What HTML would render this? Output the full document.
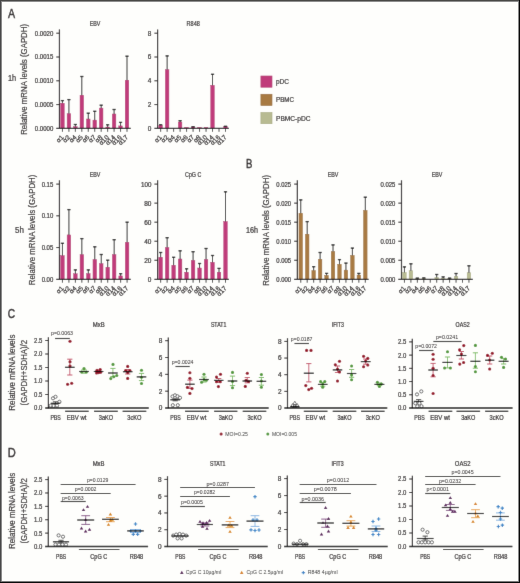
<!DOCTYPE html>
<html><head><meta charset="utf-8"><title>Figure</title>
<style>html,body{margin:0;padding:0;background:#fff;width:520px;height:583px;overflow:hidden}
svg{display:block;will-change:transform} text{font-family:"Liberation Sans",sans-serif;stroke:#231f20;stroke-width:0.2px}</style></head>
<body>
<svg width="520" height="583" viewBox="0 0 520 583" font-family="'Liberation Sans', sans-serif" fill="#231f20">
<defs><filter id="soft" x="0" y="0" width="1" height="1" filterUnits="objectBoundingBox"><feConvolveMatrix order="3" kernelMatrix="0.0052 0.0619 0.0052 0.0619 0.7314 0.0619 0.0052 0.0619 0.0052" edgeMode="duplicate"/></filter></defs>
<g filter="url(#soft)">
<rect width="520" height="583" fill="#fefefc"/>
<text x="7.9" y="17.8" font-size="12.4" textLength="7.1" lengthAdjust="spacingAndGlyphs" style="stroke-width:0.4px">A</text>
<text x="8" y="81.2" font-size="8.2" textLength="8.2" lengthAdjust="spacingAndGlyphs">1h</text>
<text x="15.1" y="232.7" font-size="8.2" textLength="8.9" lengthAdjust="spacingAndGlyphs">5h</text>
<text transform="translate(27.1 134.8) rotate(-90)" font-size="8.5" textLength="110.9" lengthAdjust="spacingAndGlyphs">Relative mRNA levels (GAPDH)</text>
<text transform="translate(35 285.2) rotate(-90)" font-size="8.5" textLength="110.6" lengthAdjust="spacingAndGlyphs">Relative mRNA levels (GAPDH)</text>
<text x="95.05" y="25.9" font-size="6.6" text-anchor="middle" textLength="10.6" lengthAdjust="spacingAndGlyphs">EBV</text>
<rect x="60.65" y="103.2" width="3.6" height="25.2" fill="#c03a7a" stroke="#b02e6c" stroke-width="0.4"/>
<line x1="62.45" y1="100.5" x2="62.45" y2="103.2" stroke="#333" stroke-width="1"/>
<line x1="60.85" y1="100.6" x2="64.05" y2="100.6" stroke="#1a1a1a" stroke-width="1.3"/>
<rect x="67.11" y="113.7" width="3.6" height="14.7" fill="#c03a7a" stroke="#b02e6c" stroke-width="0.4"/>
<line x1="68.91" y1="99.5" x2="68.91" y2="113.7" stroke="#333" stroke-width="1"/>
<line x1="67.31" y1="99.6" x2="70.5" y2="99.6" stroke="#1a1a1a" stroke-width="1.3"/>
<rect x="73.56" y="126.7" width="3.6" height="1.7" fill="#c03a7a" stroke="#b02e6c" stroke-width="0.4"/>
<line x1="75.36" y1="124.4" x2="75.36" y2="126.7" stroke="#333" stroke-width="1"/>
<line x1="73.76" y1="124.5" x2="76.96" y2="124.5" stroke="#1a1a1a" stroke-width="1.3"/>
<rect x="80.02" y="95.2" width="3.6" height="33.2" fill="#c03a7a" stroke="#b02e6c" stroke-width="0.4"/>
<line x1="81.81" y1="76.4" x2="81.81" y2="95.2" stroke="#333" stroke-width="1"/>
<line x1="80.22" y1="76.5" x2="83.41" y2="76.5" stroke="#1a1a1a" stroke-width="1.3"/>
<rect x="86.47" y="119" width="3.6" height="9.4" fill="#c03a7a" stroke="#b02e6c" stroke-width="0.4"/>
<line x1="88.27" y1="113.1" x2="88.27" y2="119" stroke="#333" stroke-width="1"/>
<line x1="86.67" y1="113.2" x2="89.87" y2="113.2" stroke="#1a1a1a" stroke-width="1.3"/>
<rect x="92.92" y="120.1" width="3.6" height="8.3" fill="#c03a7a" stroke="#b02e6c" stroke-width="0.4"/>
<line x1="94.72" y1="111.2" x2="94.72" y2="120.1" stroke="#333" stroke-width="1"/>
<line x1="93.12" y1="111.3" x2="96.32" y2="111.3" stroke="#1a1a1a" stroke-width="1.3"/>
<rect x="99.38" y="108.1" width="3.6" height="20.3" fill="#c03a7a" stroke="#b02e6c" stroke-width="0.4"/>
<line x1="101.18" y1="105.1" x2="101.18" y2="108.1" stroke="#333" stroke-width="1"/>
<line x1="99.58" y1="105.2" x2="102.78" y2="105.2" stroke="#1a1a1a" stroke-width="1.3"/>
<rect x="105.84" y="127" width="3.6" height="1.4" fill="#c03a7a" stroke="#b02e6c" stroke-width="0.4"/>
<line x1="107.64" y1="124.7" x2="107.64" y2="127" stroke="#333" stroke-width="1"/>
<line x1="106.04" y1="124.8" x2="109.23" y2="124.8" stroke="#1a1a1a" stroke-width="1.3"/>
<rect x="112.29" y="114" width="3.6" height="14.4" fill="#c03a7a" stroke="#b02e6c" stroke-width="0.4"/>
<line x1="114.09" y1="109.4" x2="114.09" y2="114" stroke="#333" stroke-width="1"/>
<line x1="112.49" y1="109.5" x2="115.69" y2="109.5" stroke="#1a1a1a" stroke-width="1.3"/>
<rect x="118.75" y="125.9" width="3.6" height="2.5" fill="#c03a7a" stroke="#b02e6c" stroke-width="0.4"/>
<line x1="120.55" y1="122.3" x2="120.55" y2="125.9" stroke="#333" stroke-width="1"/>
<line x1="118.95" y1="122.4" x2="122.14" y2="122.4" stroke="#1a1a1a" stroke-width="1.3"/>
<rect x="125.2" y="80.2" width="3.6" height="48.2" fill="#c03a7a" stroke="#b02e6c" stroke-width="0.4"/>
<line x1="127" y1="56.1" x2="127" y2="80.2" stroke="#333" stroke-width="1"/>
<line x1="125.4" y1="56.2" x2="128.6" y2="56.2" stroke="#1a1a1a" stroke-width="1.3"/>
<line x1="59.45" y1="29.4" x2="59.45" y2="128.95" stroke="#231f20" stroke-width="1.2"/>
<line x1="56.25" y1="128.4" x2="130.75" y2="128.4" stroke="#231f20" stroke-width="1.15"/>
<text x="53.25" y="130.8" font-size="6.8" text-anchor="end" textLength="18.4" lengthAdjust="spacingAndGlyphs">0.0000</text>
<line x1="56.25" y1="104.6" x2="59.45" y2="104.6" stroke="#231f20" stroke-width="1"/>
<text x="53.25" y="107" font-size="6.8" text-anchor="end" textLength="18.4" lengthAdjust="spacingAndGlyphs">0.0005</text>
<line x1="56.25" y1="80.8" x2="59.45" y2="80.8" stroke="#231f20" stroke-width="1"/>
<text x="53.25" y="83.2" font-size="6.8" text-anchor="end" textLength="18.4" lengthAdjust="spacingAndGlyphs">0.0010</text>
<line x1="56.25" y1="57" x2="59.45" y2="57" stroke="#231f20" stroke-width="1"/>
<text x="53.25" y="59.4" font-size="6.8" text-anchor="end" textLength="18.4" lengthAdjust="spacingAndGlyphs">0.0015</text>
<line x1="56.25" y1="33.2" x2="59.45" y2="33.2" stroke="#231f20" stroke-width="1"/>
<text x="53.25" y="35.6" font-size="6.8" text-anchor="end" textLength="18.4" lengthAdjust="spacingAndGlyphs">0.0020</text>
<line x1="62.45" y1="128.4" x2="62.45" y2="131.8" stroke="#333" stroke-width="0.9"/>
<text transform="translate(64.05 137.8) rotate(-45)" font-size="6.5" text-anchor="end" style="stroke-width:0.22px">α1</text>
<line x1="68.91" y1="128.4" x2="68.91" y2="131.8" stroke="#333" stroke-width="0.9"/>
<text transform="translate(70.5 137.8) rotate(-45)" font-size="6.5" text-anchor="end" style="stroke-width:0.22px">α2</text>
<line x1="75.36" y1="128.4" x2="75.36" y2="131.8" stroke="#333" stroke-width="0.9"/>
<text transform="translate(76.96 137.8) rotate(-45)" font-size="6.5" text-anchor="end" style="stroke-width:0.22px">α4</text>
<line x1="81.81" y1="128.4" x2="81.81" y2="131.8" stroke="#333" stroke-width="0.9"/>
<text transform="translate(83.41 137.8) rotate(-45)" font-size="6.5" text-anchor="end" style="stroke-width:0.22px">α5</text>
<line x1="88.27" y1="128.4" x2="88.27" y2="131.8" stroke="#333" stroke-width="0.9"/>
<text transform="translate(89.87 137.8) rotate(-45)" font-size="6.5" text-anchor="end" style="stroke-width:0.22px">α6</text>
<line x1="94.72" y1="128.4" x2="94.72" y2="131.8" stroke="#333" stroke-width="0.9"/>
<text transform="translate(96.32 137.8) rotate(-45)" font-size="6.5" text-anchor="end" style="stroke-width:0.22px">α7</text>
<line x1="101.18" y1="128.4" x2="101.18" y2="131.8" stroke="#333" stroke-width="0.9"/>
<text transform="translate(102.78 137.8) rotate(-45)" font-size="6.5" text-anchor="end" style="stroke-width:0.22px">α8</text>
<line x1="107.64" y1="128.4" x2="107.64" y2="131.8" stroke="#333" stroke-width="0.9"/>
<text transform="translate(109.23 137.8) rotate(-45)" font-size="6.5" text-anchor="end" style="stroke-width:0.22px">α10</text>
<line x1="114.09" y1="128.4" x2="114.09" y2="131.8" stroke="#333" stroke-width="0.9"/>
<text transform="translate(115.69 137.8) rotate(-45)" font-size="6.5" text-anchor="end" style="stroke-width:0.22px">α14</text>
<line x1="120.55" y1="128.4" x2="120.55" y2="131.8" stroke="#333" stroke-width="0.9"/>
<text transform="translate(122.14 137.8) rotate(-45)" font-size="6.5" text-anchor="end" style="stroke-width:0.22px">α16</text>
<line x1="127" y1="128.4" x2="127" y2="131.8" stroke="#333" stroke-width="0.9"/>
<text transform="translate(128.6 137.8) rotate(-45)" font-size="6.5" text-anchor="end" style="stroke-width:0.22px">α17</text>
<text x="193.2" y="25.9" font-size="6.6" text-anchor="middle" textLength="13.2" lengthAdjust="spacingAndGlyphs">R848</text>
<rect x="158.85" y="125.2" width="3.6" height="3.2" fill="#c03a7a" stroke="#b02e6c" stroke-width="0.4"/>
<line x1="160.65" y1="124.6" x2="160.65" y2="125.2" stroke="#333" stroke-width="1"/>
<line x1="159.05" y1="124.7" x2="162.25" y2="124.7" stroke="#1a1a1a" stroke-width="1.3"/>
<rect x="165.34" y="69.7" width="3.6" height="58.7" fill="#c03a7a" stroke="#b02e6c" stroke-width="0.4"/>
<line x1="167.14" y1="55.8" x2="167.14" y2="69.7" stroke="#333" stroke-width="1"/>
<line x1="165.54" y1="55.9" x2="168.74" y2="55.9" stroke="#1a1a1a" stroke-width="1.3"/>
<rect x="178.31" y="122" width="3.6" height="6.4" fill="#c03a7a" stroke="#b02e6c" stroke-width="0.4"/>
<line x1="180.11" y1="120.6" x2="180.11" y2="122" stroke="#333" stroke-width="1"/>
<line x1="178.51" y1="120.7" x2="181.71" y2="120.7" stroke="#1a1a1a" stroke-width="1.3"/>
<rect x="184.79" y="127.3" width="3.6" height="1.1" fill="#c03a7a" stroke="#b02e6c" stroke-width="0.4"/>
<rect x="191.28" y="127" width="3.6" height="1.4" fill="#c03a7a" stroke="#b02e6c" stroke-width="0.4"/>
<line x1="193.08" y1="126.6" x2="193.08" y2="127" stroke="#333" stroke-width="1"/>
<line x1="191.48" y1="126.7" x2="194.68" y2="126.7" stroke="#1a1a1a" stroke-width="1.3"/>
<rect x="197.76" y="127.3" width="3.6" height="1.1" fill="#c03a7a" stroke="#b02e6c" stroke-width="0.4"/>
<rect x="204.25" y="127.3" width="3.6" height="1.1" fill="#c03a7a" stroke="#b02e6c" stroke-width="0.4"/>
<rect x="210.73" y="85.3" width="3.6" height="43.1" fill="#c03a7a" stroke="#b02e6c" stroke-width="0.4"/>
<line x1="212.53" y1="74.2" x2="212.53" y2="85.3" stroke="#333" stroke-width="1"/>
<line x1="210.93" y1="74.3" x2="214.13" y2="74.3" stroke="#1a1a1a" stroke-width="1.3"/>
<rect x="223.7" y="126.7" width="3.6" height="1.7" fill="#c03a7a" stroke="#b02e6c" stroke-width="0.4"/>
<line x1="225.5" y1="126.2" x2="225.5" y2="126.7" stroke="#333" stroke-width="1"/>
<line x1="223.9" y1="126.3" x2="227.1" y2="126.3" stroke="#1a1a1a" stroke-width="1.3"/>
<line x1="157.6" y1="29.4" x2="157.6" y2="128.95" stroke="#231f20" stroke-width="1.2"/>
<line x1="154.4" y1="128.4" x2="228.9" y2="128.4" stroke="#231f20" stroke-width="1.15"/>
<text x="151.4" y="130.8" font-size="6.8" text-anchor="end" textLength="3.6" lengthAdjust="spacingAndGlyphs">0</text>
<line x1="154.4" y1="104.6" x2="157.6" y2="104.6" stroke="#231f20" stroke-width="1"/>
<text x="151.4" y="107" font-size="6.8" text-anchor="end" textLength="3.6" lengthAdjust="spacingAndGlyphs">2</text>
<line x1="154.4" y1="80.8" x2="157.6" y2="80.8" stroke="#231f20" stroke-width="1"/>
<text x="151.4" y="83.2" font-size="6.8" text-anchor="end" textLength="3.6" lengthAdjust="spacingAndGlyphs">4</text>
<line x1="154.4" y1="57" x2="157.6" y2="57" stroke="#231f20" stroke-width="1"/>
<text x="151.4" y="59.4" font-size="6.8" text-anchor="end" textLength="3.6" lengthAdjust="spacingAndGlyphs">6</text>
<line x1="154.4" y1="33.2" x2="157.6" y2="33.2" stroke="#231f20" stroke-width="1"/>
<text x="151.4" y="35.6" font-size="6.8" text-anchor="end" textLength="3.6" lengthAdjust="spacingAndGlyphs">8</text>
<line x1="160.65" y1="128.4" x2="160.65" y2="131.8" stroke="#333" stroke-width="0.9"/>
<text transform="translate(162.25 137.8) rotate(-45)" font-size="6.5" text-anchor="end" style="stroke-width:0.22px">α1</text>
<line x1="167.14" y1="128.4" x2="167.14" y2="131.8" stroke="#333" stroke-width="0.9"/>
<text transform="translate(168.74 137.8) rotate(-45)" font-size="6.5" text-anchor="end" style="stroke-width:0.22px">α2</text>
<line x1="173.62" y1="128.4" x2="173.62" y2="131.8" stroke="#333" stroke-width="0.9"/>
<text transform="translate(175.22 137.8) rotate(-45)" font-size="6.5" text-anchor="end" style="stroke-width:0.22px">α4</text>
<line x1="180.11" y1="128.4" x2="180.11" y2="131.8" stroke="#333" stroke-width="0.9"/>
<text transform="translate(181.71 137.8) rotate(-45)" font-size="6.5" text-anchor="end" style="stroke-width:0.22px">α5</text>
<line x1="186.59" y1="128.4" x2="186.59" y2="131.8" stroke="#333" stroke-width="0.9"/>
<text transform="translate(188.19 137.8) rotate(-45)" font-size="6.5" text-anchor="end" style="stroke-width:0.22px">α6</text>
<line x1="193.08" y1="128.4" x2="193.08" y2="131.8" stroke="#333" stroke-width="0.9"/>
<text transform="translate(194.68 137.8) rotate(-45)" font-size="6.5" text-anchor="end" style="stroke-width:0.22px">α7</text>
<line x1="199.56" y1="128.4" x2="199.56" y2="131.8" stroke="#333" stroke-width="0.9"/>
<text transform="translate(201.16 137.8) rotate(-45)" font-size="6.5" text-anchor="end" style="stroke-width:0.22px">α8</text>
<line x1="206.05" y1="128.4" x2="206.05" y2="131.8" stroke="#333" stroke-width="0.9"/>
<text transform="translate(207.65 137.8) rotate(-45)" font-size="6.5" text-anchor="end" style="stroke-width:0.22px">α10</text>
<line x1="212.53" y1="128.4" x2="212.53" y2="131.8" stroke="#333" stroke-width="0.9"/>
<text transform="translate(214.13 137.8) rotate(-45)" font-size="6.5" text-anchor="end" style="stroke-width:0.22px">α14</text>
<line x1="219.02" y1="128.4" x2="219.02" y2="131.8" stroke="#333" stroke-width="0.9"/>
<text transform="translate(220.62 137.8) rotate(-45)" font-size="6.5" text-anchor="end" style="stroke-width:0.22px">α16</text>
<line x1="225.5" y1="128.4" x2="225.5" y2="131.8" stroke="#333" stroke-width="0.9"/>
<text transform="translate(227.1 137.8) rotate(-45)" font-size="6.5" text-anchor="end" style="stroke-width:0.22px">α17</text>
<text x="95.05" y="176.8" font-size="6.6" text-anchor="middle" textLength="10.6" lengthAdjust="spacingAndGlyphs">EBV</text>
<rect x="60.65" y="255.6" width="3.6" height="23.7" fill="#c03a7a" stroke="#b02e6c" stroke-width="0.4"/>
<line x1="62.45" y1="243.2" x2="62.45" y2="255.6" stroke="#333" stroke-width="1"/>
<line x1="60.85" y1="243.3" x2="64.05" y2="243.3" stroke="#1a1a1a" stroke-width="1.3"/>
<rect x="67.12" y="234.9" width="3.6" height="44.4" fill="#c03a7a" stroke="#b02e6c" stroke-width="0.4"/>
<line x1="68.92" y1="209.5" x2="68.92" y2="234.9" stroke="#333" stroke-width="1"/>
<line x1="67.32" y1="209.6" x2="70.52" y2="209.6" stroke="#1a1a1a" stroke-width="1.3"/>
<rect x="73.58" y="273.8" width="3.6" height="5.5" fill="#c03a7a" stroke="#b02e6c" stroke-width="0.4"/>
<line x1="75.38" y1="269.8" x2="75.38" y2="273.8" stroke="#333" stroke-width="1"/>
<line x1="73.78" y1="269.9" x2="76.98" y2="269.9" stroke="#1a1a1a" stroke-width="1.3"/>
<rect x="80.05" y="254.6" width="3.6" height="24.7" fill="#c03a7a" stroke="#b02e6c" stroke-width="0.4"/>
<line x1="81.84" y1="238.5" x2="81.84" y2="254.6" stroke="#333" stroke-width="1"/>
<line x1="80.25" y1="238.6" x2="83.44" y2="238.6" stroke="#1a1a1a" stroke-width="1.3"/>
<rect x="86.51" y="273.6" width="3.6" height="5.7" fill="#c03a7a" stroke="#b02e6c" stroke-width="0.4"/>
<line x1="88.31" y1="269.8" x2="88.31" y2="273.6" stroke="#333" stroke-width="1"/>
<line x1="86.71" y1="269.9" x2="89.91" y2="269.9" stroke="#1a1a1a" stroke-width="1.3"/>
<rect x="92.98" y="259.5" width="3.6" height="19.8" fill="#c03a7a" stroke="#b02e6c" stroke-width="0.4"/>
<line x1="94.78" y1="246.7" x2="94.78" y2="259.5" stroke="#333" stroke-width="1"/>
<line x1="93.18" y1="246.8" x2="96.38" y2="246.8" stroke="#1a1a1a" stroke-width="1.3"/>
<rect x="99.44" y="263.7" width="3.6" height="15.6" fill="#c03a7a" stroke="#b02e6c" stroke-width="0.4"/>
<line x1="101.24" y1="254.4" x2="101.24" y2="263.7" stroke="#333" stroke-width="1"/>
<line x1="99.64" y1="254.5" x2="102.84" y2="254.5" stroke="#1a1a1a" stroke-width="1.3"/>
<rect x="105.91" y="267.2" width="3.6" height="12.1" fill="#c03a7a" stroke="#b02e6c" stroke-width="0.4"/>
<line x1="107.7" y1="260.1" x2="107.7" y2="267.2" stroke="#333" stroke-width="1"/>
<line x1="106.11" y1="260.2" x2="109.3" y2="260.2" stroke="#1a1a1a" stroke-width="1.3"/>
<rect x="112.37" y="254.6" width="3.6" height="24.7" fill="#c03a7a" stroke="#b02e6c" stroke-width="0.4"/>
<line x1="114.17" y1="239.6" x2="114.17" y2="254.6" stroke="#333" stroke-width="1"/>
<line x1="112.57" y1="239.7" x2="115.77" y2="239.7" stroke="#1a1a1a" stroke-width="1.3"/>
<rect x="118.84" y="275.9" width="3.6" height="3.4" fill="#c03a7a" stroke="#b02e6c" stroke-width="0.4"/>
<line x1="120.64" y1="273.6" x2="120.64" y2="275.9" stroke="#333" stroke-width="1"/>
<line x1="119.04" y1="273.7" x2="122.23" y2="273.7" stroke="#1a1a1a" stroke-width="1.3"/>
<rect x="125.3" y="242.3" width="3.6" height="37" fill="#c03a7a" stroke="#b02e6c" stroke-width="0.4"/>
<line x1="127.1" y1="222.1" x2="127.1" y2="242.3" stroke="#333" stroke-width="1"/>
<line x1="125.5" y1="222.2" x2="128.7" y2="222.2" stroke="#1a1a1a" stroke-width="1.3"/>
<line x1="59.45" y1="180.3" x2="59.45" y2="279.85" stroke="#231f20" stroke-width="1.2"/>
<line x1="56.25" y1="279.3" x2="130.75" y2="279.3" stroke="#231f20" stroke-width="1.15"/>
<text x="53.25" y="281.7" font-size="6.8" text-anchor="end" textLength="11.6" lengthAdjust="spacingAndGlyphs">0.00</text>
<line x1="56.25" y1="247.57" x2="59.45" y2="247.57" stroke="#231f20" stroke-width="1"/>
<text x="53.25" y="249.97" font-size="6.8" text-anchor="end" textLength="11.6" lengthAdjust="spacingAndGlyphs">0.05</text>
<line x1="56.25" y1="215.83" x2="59.45" y2="215.83" stroke="#231f20" stroke-width="1"/>
<text x="53.25" y="218.23" font-size="6.8" text-anchor="end" textLength="11.6" lengthAdjust="spacingAndGlyphs">0.10</text>
<line x1="56.25" y1="184.1" x2="59.45" y2="184.1" stroke="#231f20" stroke-width="1"/>
<text x="53.25" y="186.5" font-size="6.8" text-anchor="end" textLength="11.6" lengthAdjust="spacingAndGlyphs">0.15</text>
<line x1="62.45" y1="279.3" x2="62.45" y2="282.7" stroke="#333" stroke-width="0.9"/>
<text transform="translate(64.05 288.7) rotate(-45)" font-size="6.5" text-anchor="end" style="stroke-width:0.22px">α1</text>
<line x1="68.92" y1="279.3" x2="68.92" y2="282.7" stroke="#333" stroke-width="0.9"/>
<text transform="translate(70.52 288.7) rotate(-45)" font-size="6.5" text-anchor="end" style="stroke-width:0.22px">α2</text>
<line x1="75.38" y1="279.3" x2="75.38" y2="282.7" stroke="#333" stroke-width="0.9"/>
<text transform="translate(76.98 288.7) rotate(-45)" font-size="6.5" text-anchor="end" style="stroke-width:0.22px">α4</text>
<line x1="81.84" y1="279.3" x2="81.84" y2="282.7" stroke="#333" stroke-width="0.9"/>
<text transform="translate(83.44 288.7) rotate(-45)" font-size="6.5" text-anchor="end" style="stroke-width:0.22px">α5</text>
<line x1="88.31" y1="279.3" x2="88.31" y2="282.7" stroke="#333" stroke-width="0.9"/>
<text transform="translate(89.91 288.7) rotate(-45)" font-size="6.5" text-anchor="end" style="stroke-width:0.22px">α6</text>
<line x1="94.78" y1="279.3" x2="94.78" y2="282.7" stroke="#333" stroke-width="0.9"/>
<text transform="translate(96.38 288.7) rotate(-45)" font-size="6.5" text-anchor="end" style="stroke-width:0.22px">α7</text>
<line x1="101.24" y1="279.3" x2="101.24" y2="282.7" stroke="#333" stroke-width="0.9"/>
<text transform="translate(102.84 288.7) rotate(-45)" font-size="6.5" text-anchor="end" style="stroke-width:0.22px">α8</text>
<line x1="107.7" y1="279.3" x2="107.7" y2="282.7" stroke="#333" stroke-width="0.9"/>
<text transform="translate(109.3 288.7) rotate(-45)" font-size="6.5" text-anchor="end" style="stroke-width:0.22px">α10</text>
<line x1="114.17" y1="279.3" x2="114.17" y2="282.7" stroke="#333" stroke-width="0.9"/>
<text transform="translate(115.77 288.7) rotate(-45)" font-size="6.5" text-anchor="end" style="stroke-width:0.22px">α14</text>
<line x1="120.64" y1="279.3" x2="120.64" y2="282.7" stroke="#333" stroke-width="0.9"/>
<text transform="translate(122.23 288.7) rotate(-45)" font-size="6.5" text-anchor="end" style="stroke-width:0.22px">α16</text>
<line x1="127.1" y1="279.3" x2="127.1" y2="282.7" stroke="#333" stroke-width="0.9"/>
<text transform="translate(128.7 288.7) rotate(-45)" font-size="6.5" text-anchor="end" style="stroke-width:0.22px">α17</text>
<text x="193.2" y="176.8" font-size="6.6" text-anchor="middle" textLength="16.2" lengthAdjust="spacingAndGlyphs">CpG C</text>
<rect x="158.85" y="257.2" width="3.6" height="22.1" fill="#c03a7a" stroke="#b02e6c" stroke-width="0.4"/>
<line x1="160.65" y1="252.4" x2="160.65" y2="257.2" stroke="#333" stroke-width="1"/>
<line x1="159.05" y1="252.5" x2="162.25" y2="252.5" stroke="#1a1a1a" stroke-width="1.3"/>
<rect x="165.34" y="247.5" width="3.6" height="31.8" fill="#c03a7a" stroke="#b02e6c" stroke-width="0.4"/>
<line x1="167.14" y1="237.6" x2="167.14" y2="247.5" stroke="#333" stroke-width="1"/>
<line x1="165.54" y1="237.7" x2="168.74" y2="237.7" stroke="#1a1a1a" stroke-width="1.3"/>
<rect x="171.82" y="265.2" width="3.6" height="14.1" fill="#c03a7a" stroke="#b02e6c" stroke-width="0.4"/>
<line x1="173.62" y1="257.2" x2="173.62" y2="265.2" stroke="#333" stroke-width="1"/>
<line x1="172.02" y1="257.3" x2="175.22" y2="257.3" stroke="#1a1a1a" stroke-width="1.3"/>
<rect x="178.31" y="259" width="3.6" height="20.3" fill="#c03a7a" stroke="#b02e6c" stroke-width="0.4"/>
<line x1="180.11" y1="250.7" x2="180.11" y2="259" stroke="#333" stroke-width="1"/>
<line x1="178.51" y1="250.8" x2="181.71" y2="250.8" stroke="#1a1a1a" stroke-width="1.3"/>
<rect x="184.79" y="272.2" width="3.6" height="7.1" fill="#c03a7a" stroke="#b02e6c" stroke-width="0.4"/>
<line x1="186.59" y1="268.7" x2="186.59" y2="272.2" stroke="#333" stroke-width="1"/>
<line x1="184.99" y1="268.8" x2="188.19" y2="268.8" stroke="#1a1a1a" stroke-width="1.3"/>
<rect x="191.28" y="260.4" width="3.6" height="18.9" fill="#c03a7a" stroke="#b02e6c" stroke-width="0.4"/>
<line x1="193.08" y1="251.6" x2="193.08" y2="260.4" stroke="#333" stroke-width="1"/>
<line x1="191.48" y1="251.7" x2="194.68" y2="251.7" stroke="#1a1a1a" stroke-width="1.3"/>
<rect x="197.76" y="268" width="3.6" height="11.3" fill="#c03a7a" stroke="#b02e6c" stroke-width="0.4"/>
<line x1="199.56" y1="263.4" x2="199.56" y2="268" stroke="#333" stroke-width="1"/>
<line x1="197.96" y1="263.5" x2="201.16" y2="263.5" stroke="#1a1a1a" stroke-width="1.3"/>
<rect x="204.25" y="259.5" width="3.6" height="19.8" fill="#c03a7a" stroke="#b02e6c" stroke-width="0.4"/>
<line x1="206.05" y1="248.4" x2="206.05" y2="259.5" stroke="#333" stroke-width="1"/>
<line x1="204.45" y1="248.5" x2="207.65" y2="248.5" stroke="#1a1a1a" stroke-width="1.3"/>
<rect x="210.73" y="262.3" width="3.6" height="17" fill="#c03a7a" stroke="#b02e6c" stroke-width="0.4"/>
<line x1="212.53" y1="255.4" x2="212.53" y2="262.3" stroke="#333" stroke-width="1"/>
<line x1="210.93" y1="255.5" x2="214.13" y2="255.5" stroke="#1a1a1a" stroke-width="1.3"/>
<rect x="217.22" y="272.2" width="3.6" height="7.1" fill="#c03a7a" stroke="#b02e6c" stroke-width="0.4"/>
<line x1="219.02" y1="268.3" x2="219.02" y2="272.2" stroke="#333" stroke-width="1"/>
<line x1="217.42" y1="268.4" x2="220.62" y2="268.4" stroke="#1a1a1a" stroke-width="1.3"/>
<rect x="223.7" y="221.5" width="3.6" height="57.8" fill="#c03a7a" stroke="#b02e6c" stroke-width="0.4"/>
<line x1="225.5" y1="191.7" x2="225.5" y2="221.5" stroke="#333" stroke-width="1"/>
<line x1="223.9" y1="191.8" x2="227.1" y2="191.8" stroke="#1a1a1a" stroke-width="1.3"/>
<line x1="157.6" y1="180.3" x2="157.6" y2="279.85" stroke="#231f20" stroke-width="1.2"/>
<line x1="154.4" y1="279.3" x2="228.9" y2="279.3" stroke="#231f20" stroke-width="1.15"/>
<text x="151.4" y="281.7" font-size="6.8" text-anchor="end" textLength="3.6" lengthAdjust="spacingAndGlyphs">0</text>
<line x1="154.4" y1="260.26" x2="157.6" y2="260.26" stroke="#231f20" stroke-width="1"/>
<text x="151.4" y="262.66" font-size="6.8" text-anchor="end" textLength="7.2" lengthAdjust="spacingAndGlyphs">20</text>
<line x1="154.4" y1="241.22" x2="157.6" y2="241.22" stroke="#231f20" stroke-width="1"/>
<text x="151.4" y="243.62" font-size="6.8" text-anchor="end" textLength="7.2" lengthAdjust="spacingAndGlyphs">40</text>
<line x1="154.4" y1="222.18" x2="157.6" y2="222.18" stroke="#231f20" stroke-width="1"/>
<text x="151.4" y="224.58" font-size="6.8" text-anchor="end" textLength="7.2" lengthAdjust="spacingAndGlyphs">60</text>
<line x1="154.4" y1="203.14" x2="157.6" y2="203.14" stroke="#231f20" stroke-width="1"/>
<text x="151.4" y="205.54" font-size="6.8" text-anchor="end" textLength="7.2" lengthAdjust="spacingAndGlyphs">80</text>
<line x1="154.4" y1="184.1" x2="157.6" y2="184.1" stroke="#231f20" stroke-width="1"/>
<text x="151.4" y="186.5" font-size="6.8" text-anchor="end" textLength="10.4" lengthAdjust="spacingAndGlyphs">100</text>
<line x1="160.65" y1="279.3" x2="160.65" y2="282.7" stroke="#333" stroke-width="0.9"/>
<text transform="translate(162.25 288.7) rotate(-45)" font-size="6.5" text-anchor="end" style="stroke-width:0.22px">α1</text>
<line x1="167.14" y1="279.3" x2="167.14" y2="282.7" stroke="#333" stroke-width="0.9"/>
<text transform="translate(168.74 288.7) rotate(-45)" font-size="6.5" text-anchor="end" style="stroke-width:0.22px">α2</text>
<line x1="173.62" y1="279.3" x2="173.62" y2="282.7" stroke="#333" stroke-width="0.9"/>
<text transform="translate(175.22 288.7) rotate(-45)" font-size="6.5" text-anchor="end" style="stroke-width:0.22px">α4</text>
<line x1="180.11" y1="279.3" x2="180.11" y2="282.7" stroke="#333" stroke-width="0.9"/>
<text transform="translate(181.71 288.7) rotate(-45)" font-size="6.5" text-anchor="end" style="stroke-width:0.22px">α5</text>
<line x1="186.59" y1="279.3" x2="186.59" y2="282.7" stroke="#333" stroke-width="0.9"/>
<text transform="translate(188.19 288.7) rotate(-45)" font-size="6.5" text-anchor="end" style="stroke-width:0.22px">α6</text>
<line x1="193.08" y1="279.3" x2="193.08" y2="282.7" stroke="#333" stroke-width="0.9"/>
<text transform="translate(194.68 288.7) rotate(-45)" font-size="6.5" text-anchor="end" style="stroke-width:0.22px">α7</text>
<line x1="199.56" y1="279.3" x2="199.56" y2="282.7" stroke="#333" stroke-width="0.9"/>
<text transform="translate(201.16 288.7) rotate(-45)" font-size="6.5" text-anchor="end" style="stroke-width:0.22px">α8</text>
<line x1="206.05" y1="279.3" x2="206.05" y2="282.7" stroke="#333" stroke-width="0.9"/>
<text transform="translate(207.65 288.7) rotate(-45)" font-size="6.5" text-anchor="end" style="stroke-width:0.22px">α10</text>
<line x1="212.53" y1="279.3" x2="212.53" y2="282.7" stroke="#333" stroke-width="0.9"/>
<text transform="translate(214.13 288.7) rotate(-45)" font-size="6.5" text-anchor="end" style="stroke-width:0.22px">α14</text>
<line x1="219.02" y1="279.3" x2="219.02" y2="282.7" stroke="#333" stroke-width="0.9"/>
<text transform="translate(220.62 288.7) rotate(-45)" font-size="6.5" text-anchor="end" style="stroke-width:0.22px">α16</text>
<line x1="225.5" y1="279.3" x2="225.5" y2="282.7" stroke="#333" stroke-width="0.9"/>
<text transform="translate(227.1 288.7) rotate(-45)" font-size="6.5" text-anchor="end" style="stroke-width:0.22px">α17</text>
<text x="245.9" y="167.8" font-size="12.4" textLength="6.4" lengthAdjust="spacingAndGlyphs" style="stroke-width:0.4px">B</text>
<text x="246.1" y="232.7" font-size="8.2" textLength="12" lengthAdjust="spacingAndGlyphs">16h</text>
<text transform="translate(269.4 285.7) rotate(-90)" font-size="8.5" textLength="110.7" lengthAdjust="spacingAndGlyphs">Relative mRNA levels (GAPDH)</text>
<text x="332.95" y="176.8" font-size="6.6" text-anchor="middle" textLength="10.6" lengthAdjust="spacingAndGlyphs">EBV</text>
<rect x="298.95" y="213.2" width="3.6" height="66.1" fill="#a87a42" stroke="#96692f" stroke-width="0.4"/>
<line x1="300.75" y1="199.8" x2="300.75" y2="213.2" stroke="#333" stroke-width="1"/>
<line x1="299.15" y1="199.9" x2="302.35" y2="199.9" stroke="#1a1a1a" stroke-width="1.3"/>
<rect x="305.4" y="234.2" width="3.6" height="45.1" fill="#a87a42" stroke="#96692f" stroke-width="0.4"/>
<line x1="307.2" y1="221.5" x2="307.2" y2="234.2" stroke="#333" stroke-width="1"/>
<line x1="305.6" y1="221.6" x2="308.81" y2="221.6" stroke="#1a1a1a" stroke-width="1.3"/>
<rect x="311.86" y="270.5" width="3.6" height="8.8" fill="#a87a42" stroke="#96692f" stroke-width="0.4"/>
<line x1="313.66" y1="266.6" x2="313.66" y2="270.5" stroke="#333" stroke-width="1"/>
<line x1="312.06" y1="266.7" x2="315.26" y2="266.7" stroke="#1a1a1a" stroke-width="1.3"/>
<rect x="318.31" y="259.2" width="3.6" height="20.1" fill="#a87a42" stroke="#96692f" stroke-width="0.4"/>
<line x1="320.12" y1="252.4" x2="320.12" y2="259.2" stroke="#333" stroke-width="1"/>
<line x1="318.51" y1="252.5" x2="321.72" y2="252.5" stroke="#1a1a1a" stroke-width="1.3"/>
<rect x="324.77" y="275.4" width="3.6" height="3.9" fill="#a87a42" stroke="#96692f" stroke-width="0.4"/>
<line x1="326.57" y1="273.3" x2="326.57" y2="275.4" stroke="#333" stroke-width="1"/>
<line x1="324.97" y1="273.4" x2="328.17" y2="273.4" stroke="#1a1a1a" stroke-width="1.3"/>
<rect x="331.22" y="251.6" width="3.6" height="27.7" fill="#a87a42" stroke="#96692f" stroke-width="0.4"/>
<line x1="333.02" y1="244.8" x2="333.02" y2="251.6" stroke="#333" stroke-width="1"/>
<line x1="331.42" y1="244.9" x2="334.62" y2="244.9" stroke="#1a1a1a" stroke-width="1.3"/>
<rect x="337.68" y="264.3" width="3.6" height="15" fill="#a87a42" stroke="#96692f" stroke-width="0.4"/>
<line x1="339.48" y1="259.5" x2="339.48" y2="264.3" stroke="#333" stroke-width="1"/>
<line x1="337.88" y1="259.6" x2="341.08" y2="259.6" stroke="#1a1a1a" stroke-width="1.3"/>
<rect x="344.13" y="270.1" width="3.6" height="9.2" fill="#a87a42" stroke="#96692f" stroke-width="0.4"/>
<line x1="345.94" y1="263" x2="345.94" y2="270.1" stroke="#333" stroke-width="1"/>
<line x1="344.33" y1="263.1" x2="347.54" y2="263.1" stroke="#1a1a1a" stroke-width="1.3"/>
<rect x="350.59" y="255.4" width="3.6" height="23.9" fill="#a87a42" stroke="#96692f" stroke-width="0.4"/>
<line x1="352.39" y1="248" x2="352.39" y2="255.4" stroke="#333" stroke-width="1"/>
<line x1="350.79" y1="248.1" x2="353.99" y2="248.1" stroke="#1a1a1a" stroke-width="1.3"/>
<rect x="357.05" y="275" width="3.6" height="4.3" fill="#a87a42" stroke="#96692f" stroke-width="0.4"/>
<line x1="358.85" y1="273.3" x2="358.85" y2="275" stroke="#333" stroke-width="1"/>
<line x1="357.25" y1="273.4" x2="360.45" y2="273.4" stroke="#1a1a1a" stroke-width="1.3"/>
<rect x="363.5" y="210.4" width="3.6" height="68.9" fill="#a87a42" stroke="#96692f" stroke-width="0.4"/>
<line x1="365.3" y1="197.1" x2="365.3" y2="210.4" stroke="#333" stroke-width="1"/>
<line x1="363.7" y1="197.2" x2="366.9" y2="197.2" stroke="#1a1a1a" stroke-width="1.3"/>
<line x1="297.35" y1="180.3" x2="297.35" y2="279.85" stroke="#231f20" stroke-width="1.2"/>
<line x1="294.15" y1="279.3" x2="368.65" y2="279.3" stroke="#231f20" stroke-width="1.15"/>
<text x="291.15" y="281.7" font-size="6.8" text-anchor="end" textLength="14.8" lengthAdjust="spacingAndGlyphs">0.000</text>
<line x1="294.15" y1="260.26" x2="297.35" y2="260.26" stroke="#231f20" stroke-width="1"/>
<text x="291.15" y="262.66" font-size="6.8" text-anchor="end" textLength="14.8" lengthAdjust="spacingAndGlyphs">0.005</text>
<line x1="294.15" y1="241.22" x2="297.35" y2="241.22" stroke="#231f20" stroke-width="1"/>
<text x="291.15" y="243.62" font-size="6.8" text-anchor="end" textLength="14.8" lengthAdjust="spacingAndGlyphs">0.010</text>
<line x1="294.15" y1="222.18" x2="297.35" y2="222.18" stroke="#231f20" stroke-width="1"/>
<text x="291.15" y="224.58" font-size="6.8" text-anchor="end" textLength="14.8" lengthAdjust="spacingAndGlyphs">0.015</text>
<line x1="294.15" y1="203.14" x2="297.35" y2="203.14" stroke="#231f20" stroke-width="1"/>
<text x="291.15" y="205.54" font-size="6.8" text-anchor="end" textLength="14.8" lengthAdjust="spacingAndGlyphs">0.020</text>
<line x1="294.15" y1="184.1" x2="297.35" y2="184.1" stroke="#231f20" stroke-width="1"/>
<text x="291.15" y="186.5" font-size="6.8" text-anchor="end" textLength="14.8" lengthAdjust="spacingAndGlyphs">0.025</text>
<line x1="300.75" y1="279.3" x2="300.75" y2="282.7" stroke="#333" stroke-width="0.9"/>
<text transform="translate(302.35 288.7) rotate(-45)" font-size="6.5" text-anchor="end" style="stroke-width:0.22px">α1</text>
<line x1="307.2" y1="279.3" x2="307.2" y2="282.7" stroke="#333" stroke-width="0.9"/>
<text transform="translate(308.81 288.7) rotate(-45)" font-size="6.5" text-anchor="end" style="stroke-width:0.22px">α2</text>
<line x1="313.66" y1="279.3" x2="313.66" y2="282.7" stroke="#333" stroke-width="0.9"/>
<text transform="translate(315.26 288.7) rotate(-45)" font-size="6.5" text-anchor="end" style="stroke-width:0.22px">α4</text>
<line x1="320.12" y1="279.3" x2="320.12" y2="282.7" stroke="#333" stroke-width="0.9"/>
<text transform="translate(321.72 288.7) rotate(-45)" font-size="6.5" text-anchor="end" style="stroke-width:0.22px">α5</text>
<line x1="326.57" y1="279.3" x2="326.57" y2="282.7" stroke="#333" stroke-width="0.9"/>
<text transform="translate(328.17 288.7) rotate(-45)" font-size="6.5" text-anchor="end" style="stroke-width:0.22px">α6</text>
<line x1="333.02" y1="279.3" x2="333.02" y2="282.7" stroke="#333" stroke-width="0.9"/>
<text transform="translate(334.62 288.7) rotate(-45)" font-size="6.5" text-anchor="end" style="stroke-width:0.22px">α7</text>
<line x1="339.48" y1="279.3" x2="339.48" y2="282.7" stroke="#333" stroke-width="0.9"/>
<text transform="translate(341.08 288.7) rotate(-45)" font-size="6.5" text-anchor="end" style="stroke-width:0.22px">α8</text>
<line x1="345.94" y1="279.3" x2="345.94" y2="282.7" stroke="#333" stroke-width="0.9"/>
<text transform="translate(347.54 288.7) rotate(-45)" font-size="6.5" text-anchor="end" style="stroke-width:0.22px">α10</text>
<line x1="352.39" y1="279.3" x2="352.39" y2="282.7" stroke="#333" stroke-width="0.9"/>
<text transform="translate(353.99 288.7) rotate(-45)" font-size="6.5" text-anchor="end" style="stroke-width:0.22px">α14</text>
<line x1="358.85" y1="279.3" x2="358.85" y2="282.7" stroke="#333" stroke-width="0.9"/>
<text transform="translate(360.45 288.7) rotate(-45)" font-size="6.5" text-anchor="end" style="stroke-width:0.22px">α16</text>
<line x1="365.3" y1="279.3" x2="365.3" y2="282.7" stroke="#333" stroke-width="0.9"/>
<text transform="translate(366.9 288.7) rotate(-45)" font-size="6.5" text-anchor="end" style="stroke-width:0.22px">α17</text>
<text x="437.1" y="176.8" font-size="6.6" text-anchor="middle" textLength="10.6" lengthAdjust="spacingAndGlyphs">EBV</text>
<rect x="402.65" y="272.5" width="3.6" height="6.8" fill="#b8bb92" stroke="#a6a97e" stroke-width="0.4"/>
<line x1="404.45" y1="266.8" x2="404.45" y2="272.5" stroke="#333" stroke-width="1"/>
<line x1="402.85" y1="266.9" x2="406.05" y2="266.9" stroke="#1a1a1a" stroke-width="1.3"/>
<rect x="409.1" y="270.8" width="3.6" height="8.5" fill="#b8bb92" stroke="#a6a97e" stroke-width="0.4"/>
<line x1="410.9" y1="263.7" x2="410.9" y2="270.8" stroke="#333" stroke-width="1"/>
<line x1="409.3" y1="263.8" x2="412.5" y2="263.8" stroke="#1a1a1a" stroke-width="1.3"/>
<rect x="415.55" y="278.5" width="3.6" height="0.8" fill="#b8bb92" stroke="#a6a97e" stroke-width="0.4"/>
<line x1="417.35" y1="278" x2="417.35" y2="278.5" stroke="#333" stroke-width="1"/>
<line x1="415.75" y1="278.1" x2="418.95" y2="278.1" stroke="#1a1a1a" stroke-width="1.3"/>
<rect x="422" y="278.3" width="3.6" height="1" fill="#b8bb92" stroke="#a6a97e" stroke-width="0.4"/>
<line x1="423.8" y1="277.8" x2="423.8" y2="278.3" stroke="#333" stroke-width="1"/>
<line x1="422.2" y1="277.9" x2="425.4" y2="277.9" stroke="#1a1a1a" stroke-width="1.3"/>
<rect x="434.9" y="277.5" width="3.6" height="1.8" fill="#b8bb92" stroke="#a6a97e" stroke-width="0.4"/>
<line x1="436.7" y1="274.4" x2="436.7" y2="277.5" stroke="#333" stroke-width="1"/>
<line x1="435.1" y1="274.5" x2="438.3" y2="274.5" stroke="#1a1a1a" stroke-width="1.3"/>
<rect x="441.35" y="278.3" width="3.6" height="1" fill="#b8bb92" stroke="#a6a97e" stroke-width="0.4"/>
<line x1="443.15" y1="276.8" x2="443.15" y2="278.3" stroke="#333" stroke-width="1"/>
<line x1="441.55" y1="276.9" x2="444.75" y2="276.9" stroke="#1a1a1a" stroke-width="1.3"/>
<rect x="447.8" y="278.6" width="3.6" height="0.7" fill="#b8bb92" stroke="#a6a97e" stroke-width="0.4"/>
<line x1="449.6" y1="278" x2="449.6" y2="278.6" stroke="#333" stroke-width="1"/>
<line x1="448" y1="278.1" x2="451.2" y2="278.1" stroke="#1a1a1a" stroke-width="1.3"/>
<rect x="454.25" y="276.4" width="3.6" height="2.9" fill="#b8bb92" stroke="#a6a97e" stroke-width="0.4"/>
<line x1="456.05" y1="273.4" x2="456.05" y2="276.4" stroke="#333" stroke-width="1"/>
<line x1="454.45" y1="273.5" x2="457.65" y2="273.5" stroke="#1a1a1a" stroke-width="1.3"/>
<rect x="467.15" y="272.8" width="3.6" height="6.5" fill="#b8bb92" stroke="#a6a97e" stroke-width="0.4"/>
<line x1="468.95" y1="265.7" x2="468.95" y2="272.8" stroke="#333" stroke-width="1"/>
<line x1="467.35" y1="265.8" x2="470.55" y2="265.8" stroke="#1a1a1a" stroke-width="1.3"/>
<line x1="401.5" y1="180.3" x2="401.5" y2="279.85" stroke="#231f20" stroke-width="1.2"/>
<line x1="398.3" y1="279.3" x2="472.8" y2="279.3" stroke="#231f20" stroke-width="1.15"/>
<text x="395.3" y="281.7" font-size="6.8" text-anchor="end" textLength="14.8" lengthAdjust="spacingAndGlyphs">0.000</text>
<line x1="398.3" y1="260.26" x2="401.5" y2="260.26" stroke="#231f20" stroke-width="1"/>
<text x="395.3" y="262.66" font-size="6.8" text-anchor="end" textLength="14.8" lengthAdjust="spacingAndGlyphs">0.005</text>
<line x1="398.3" y1="241.22" x2="401.5" y2="241.22" stroke="#231f20" stroke-width="1"/>
<text x="395.3" y="243.62" font-size="6.8" text-anchor="end" textLength="14.8" lengthAdjust="spacingAndGlyphs">0.010</text>
<line x1="398.3" y1="222.18" x2="401.5" y2="222.18" stroke="#231f20" stroke-width="1"/>
<text x="395.3" y="224.58" font-size="6.8" text-anchor="end" textLength="14.8" lengthAdjust="spacingAndGlyphs">0.015</text>
<line x1="398.3" y1="203.14" x2="401.5" y2="203.14" stroke="#231f20" stroke-width="1"/>
<text x="395.3" y="205.54" font-size="6.8" text-anchor="end" textLength="14.8" lengthAdjust="spacingAndGlyphs">0.020</text>
<line x1="398.3" y1="184.1" x2="401.5" y2="184.1" stroke="#231f20" stroke-width="1"/>
<text x="395.3" y="186.5" font-size="6.8" text-anchor="end" textLength="14.8" lengthAdjust="spacingAndGlyphs">0.025</text>
<line x1="404.45" y1="279.3" x2="404.45" y2="282.7" stroke="#333" stroke-width="0.9"/>
<text transform="translate(406.05 288.7) rotate(-45)" font-size="6.5" text-anchor="end" style="stroke-width:0.22px">α1</text>
<line x1="410.9" y1="279.3" x2="410.9" y2="282.7" stroke="#333" stroke-width="0.9"/>
<text transform="translate(412.5 288.7) rotate(-45)" font-size="6.5" text-anchor="end" style="stroke-width:0.22px">α2</text>
<line x1="417.35" y1="279.3" x2="417.35" y2="282.7" stroke="#333" stroke-width="0.9"/>
<text transform="translate(418.95 288.7) rotate(-45)" font-size="6.5" text-anchor="end" style="stroke-width:0.22px">α4</text>
<line x1="423.8" y1="279.3" x2="423.8" y2="282.7" stroke="#333" stroke-width="0.9"/>
<text transform="translate(425.4 288.7) rotate(-45)" font-size="6.5" text-anchor="end" style="stroke-width:0.22px">α5</text>
<line x1="430.25" y1="279.3" x2="430.25" y2="282.7" stroke="#333" stroke-width="0.9"/>
<text transform="translate(431.85 288.7) rotate(-45)" font-size="6.5" text-anchor="end" style="stroke-width:0.22px">α6</text>
<line x1="436.7" y1="279.3" x2="436.7" y2="282.7" stroke="#333" stroke-width="0.9"/>
<text transform="translate(438.3 288.7) rotate(-45)" font-size="6.5" text-anchor="end" style="stroke-width:0.22px">α7</text>
<line x1="443.15" y1="279.3" x2="443.15" y2="282.7" stroke="#333" stroke-width="0.9"/>
<text transform="translate(444.75 288.7) rotate(-45)" font-size="6.5" text-anchor="end" style="stroke-width:0.22px">α8</text>
<line x1="449.6" y1="279.3" x2="449.6" y2="282.7" stroke="#333" stroke-width="0.9"/>
<text transform="translate(451.2 288.7) rotate(-45)" font-size="6.5" text-anchor="end" style="stroke-width:0.22px">α10</text>
<line x1="456.05" y1="279.3" x2="456.05" y2="282.7" stroke="#333" stroke-width="0.9"/>
<text transform="translate(457.65 288.7) rotate(-45)" font-size="6.5" text-anchor="end" style="stroke-width:0.22px">α14</text>
<line x1="462.5" y1="279.3" x2="462.5" y2="282.7" stroke="#333" stroke-width="0.9"/>
<text transform="translate(464.1 288.7) rotate(-45)" font-size="6.5" text-anchor="end" style="stroke-width:0.22px">α16</text>
<line x1="468.95" y1="279.3" x2="468.95" y2="282.7" stroke="#333" stroke-width="0.9"/>
<text transform="translate(470.55 288.7) rotate(-45)" font-size="6.5" text-anchor="end" style="stroke-width:0.22px">α17</text>
<rect x="260.9" y="76" width="11.1" height="11.2" fill="#c03a7a" stroke="#b02e6c" stroke-width="0.6"/>
<text x="276" y="84" font-size="7.4" textLength="13" lengthAdjust="spacingAndGlyphs">pDC</text>
<rect x="260.9" y="94.25" width="11.1" height="11.2" fill="#a87a42" stroke="#96692f" stroke-width="0.6"/>
<text x="276" y="102.25" font-size="7.4" textLength="18" lengthAdjust="spacingAndGlyphs">PBMC</text>
<rect x="260.9" y="112.5" width="11.1" height="11.2" fill="#b8bb92" stroke="#a6a97e" stroke-width="0.6"/>
<text x="276" y="120.5" font-size="7.4" textLength="34.5" lengthAdjust="spacingAndGlyphs">PBMC-pDC</text>
<text x="7.7" y="318.4" font-size="12.4" textLength="7.4" lengthAdjust="spacingAndGlyphs" style="stroke-width:0.4px">C</text>
<text transform="translate(15 410.7) rotate(-90)" font-size="8.6" textLength="76.2" lengthAdjust="spacingAndGlyphs">Relative mRNA levels</text>
<text transform="translate(27.3 405.4) rotate(-90)" font-size="8.6" textLength="65.5" lengthAdjust="spacingAndGlyphs">(GAPDH+SDHA)/2</text>
<text transform="translate(15 548.9) rotate(-90)" font-size="8.6" textLength="76.2" lengthAdjust="spacingAndGlyphs">Relative mRNA levels</text>
<text transform="translate(27.3 543.6) rotate(-90)" font-size="8.6" textLength="65.5" lengthAdjust="spacingAndGlyphs">(GAPDH+SDHA)/2</text>
<text x="98.7" y="326.9" font-size="6.6" text-anchor="middle" textLength="11.9" lengthAdjust="spacingAndGlyphs">MxB</text>
<line x1="55.5" y1="401.8" x2="55.5" y2="404.6" stroke="#4a4a4a" stroke-width="0.9"/>
<line x1="52.9" y1="401.8" x2="58.1" y2="401.8" stroke="#4a4a4a" stroke-width="1"/>
<line x1="52.9" y1="404.6" x2="58.1" y2="404.6" stroke="#4a4a4a" stroke-width="1"/>
<circle cx="53" cy="398.3" r="1.6" fill="#fff" stroke="#4a4a4a" stroke-width="0.8"/>
<circle cx="55.5" cy="396.8" r="1.6" fill="#fff" stroke="#4a4a4a" stroke-width="0.8"/>
<circle cx="59.4" cy="401.8" r="1.6" fill="#fff" stroke="#4a4a4a" stroke-width="0.8"/>
<circle cx="50.8" cy="405.6" r="1.6" fill="#fff" stroke="#4a4a4a" stroke-width="0.8"/>
<circle cx="53.6" cy="405.8" r="1.6" fill="#fff" stroke="#4a4a4a" stroke-width="0.8"/>
<circle cx="57" cy="405.6" r="1.6" fill="#fff" stroke="#4a4a4a" stroke-width="0.8"/>
<line x1="50.8" y1="403.3" x2="60.2" y2="403.3" stroke="#0a0a0a" stroke-width="1.15"/>
<line x1="69.8" y1="359.2" x2="69.8" y2="375" stroke="#c4566c" stroke-width="0.9"/>
<line x1="67.2" y1="359.2" x2="72.4" y2="359.2" stroke="#c4566c" stroke-width="1"/>
<line x1="67.2" y1="375" x2="72.4" y2="375" stroke="#c4566c" stroke-width="1"/>
<circle cx="70" cy="341.3" r="1.55" fill="#940a24"/>
<circle cx="70" cy="361.8" r="1.55" fill="#940a24"/>
<circle cx="70" cy="366" r="1.55" fill="#940a24"/>
<circle cx="67.6" cy="384.2" r="1.55" fill="#940a24"/>
<circle cx="71.7" cy="383.2" r="1.55" fill="#940a24"/>
<line x1="64.95" y1="367.3" x2="74.65" y2="367.3" stroke="#0a0a0a" stroke-width="1.15"/>
<line x1="84" y1="369.8" x2="84" y2="373.2" stroke="#7fbd67" stroke-width="0.9"/>
<line x1="81.4" y1="369.8" x2="86.6" y2="369.8" stroke="#7fbd67" stroke-width="1"/>
<line x1="81.4" y1="373.2" x2="86.6" y2="373.2" stroke="#7fbd67" stroke-width="1"/>
<circle cx="84" cy="368.5" r="1.55" fill="#52993a"/>
<circle cx="81.6" cy="372" r="1.55" fill="#52993a"/>
<circle cx="86.4" cy="372" r="1.55" fill="#52993a"/>
<line x1="79.1" y1="371.5" x2="88.9" y2="371.5" stroke="#0a0a0a" stroke-width="1.15"/>
<line x1="98.6" y1="370.2" x2="98.6" y2="372.9" stroke="#c4566c" stroke-width="0.9"/>
<line x1="96" y1="370.2" x2="101.2" y2="370.2" stroke="#c4566c" stroke-width="1"/>
<line x1="96" y1="372.9" x2="101.2" y2="372.9" stroke="#c4566c" stroke-width="1"/>
<circle cx="97" cy="370.3" r="1.55" fill="#940a24"/>
<circle cx="100.2" cy="369.6" r="1.55" fill="#940a24"/>
<circle cx="98.6" cy="372.6" r="1.55" fill="#940a24"/>
<circle cx="96.6" cy="373" r="1.55" fill="#940a24"/>
<circle cx="100.6" cy="372.2" r="1.55" fill="#940a24"/>
<line x1="93.8" y1="371.5" x2="103.4" y2="371.5" stroke="#0a0a0a" stroke-width="1.15"/>
<line x1="112.9" y1="368.4" x2="112.9" y2="376.5" stroke="#7fbd67" stroke-width="0.9"/>
<line x1="110.3" y1="368.4" x2="115.5" y2="368.4" stroke="#7fbd67" stroke-width="1"/>
<line x1="110.3" y1="376.5" x2="115.5" y2="376.5" stroke="#7fbd67" stroke-width="1"/>
<circle cx="113" cy="364.4" r="1.55" fill="#52993a"/>
<circle cx="116.8" cy="375.5" r="1.55" fill="#52993a"/>
<circle cx="113.8" cy="376.8" r="1.55" fill="#52993a"/>
<circle cx="110.8" cy="378.6" r="1.55" fill="#52993a"/>
<line x1="108.05" y1="373" x2="117.75" y2="373" stroke="#0a0a0a" stroke-width="1.15"/>
<line x1="127.7" y1="369.5" x2="127.7" y2="374" stroke="#c4566c" stroke-width="0.9"/>
<line x1="125.1" y1="369.5" x2="130.3" y2="369.5" stroke="#c4566c" stroke-width="1"/>
<line x1="125.1" y1="374" x2="130.3" y2="374" stroke="#c4566c" stroke-width="1"/>
<circle cx="127.7" cy="366.4" r="1.55" fill="#940a24"/>
<circle cx="127.7" cy="378.4" r="1.55" fill="#940a24"/>
<circle cx="125.6" cy="370.6" r="1.55" fill="#940a24"/>
<circle cx="129.9" cy="370.6" r="1.55" fill="#940a24"/>
<circle cx="127.7" cy="372.6" r="1.55" fill="#940a24"/>
<line x1="122.9" y1="371.7" x2="132.5" y2="371.7" stroke="#0a0a0a" stroke-width="1.15"/>
<line x1="141.5" y1="373.4" x2="141.5" y2="380.6" stroke="#7fbd67" stroke-width="0.9"/>
<line x1="138.9" y1="373.4" x2="144.1" y2="373.4" stroke="#7fbd67" stroke-width="1"/>
<line x1="138.9" y1="380.6" x2="144.1" y2="380.6" stroke="#7fbd67" stroke-width="1"/>
<circle cx="141.5" cy="370.2" r="1.55" fill="#52993a"/>
<circle cx="141.5" cy="383.5" r="1.55" fill="#52993a"/>
<circle cx="141.5" cy="377.2" r="1.55" fill="#52993a"/>
<line x1="136.7" y1="376.9" x2="146.3" y2="376.9" stroke="#0a0a0a" stroke-width="1.15"/>
<line x1="48.4" y1="337.3" x2="48.4" y2="408.55" stroke="#231f20" stroke-width="1.2"/>
<line x1="45.2" y1="408" x2="148.8" y2="408" stroke="#151515" stroke-width="1.35"/>
<text x="42.4" y="410.4" font-size="6.8" text-anchor="end" textLength="8.3" lengthAdjust="spacingAndGlyphs">0.0</text>
<line x1="45.2" y1="394.5" x2="48.4" y2="394.5" stroke="#231f20" stroke-width="1"/>
<text x="42.4" y="396.9" font-size="6.8" text-anchor="end" textLength="8.3" lengthAdjust="spacingAndGlyphs">0.5</text>
<line x1="45.2" y1="381" x2="48.4" y2="381" stroke="#231f20" stroke-width="1"/>
<text x="42.4" y="383.4" font-size="6.8" text-anchor="end" textLength="8.3" lengthAdjust="spacingAndGlyphs">1.0</text>
<line x1="45.2" y1="367.5" x2="48.4" y2="367.5" stroke="#231f20" stroke-width="1"/>
<text x="42.4" y="369.9" font-size="6.8" text-anchor="end" textLength="8.3" lengthAdjust="spacingAndGlyphs">1.5</text>
<line x1="45.2" y1="354" x2="48.4" y2="354" stroke="#231f20" stroke-width="1"/>
<text x="42.4" y="356.4" font-size="6.8" text-anchor="end" textLength="8.3" lengthAdjust="spacingAndGlyphs">2.0</text>
<line x1="45.2" y1="340.5" x2="48.4" y2="340.5" stroke="#231f20" stroke-width="1"/>
<text x="42.4" y="342.9" font-size="6.8" text-anchor="end" textLength="8.3" lengthAdjust="spacingAndGlyphs">2.5</text>
<line x1="65.1" y1="411.3" x2="88.7" y2="411.3" stroke="#262626" stroke-width="1.3"/>
<line x1="94" y1="411.3" x2="117.8" y2="411.3" stroke="#262626" stroke-width="1.3"/>
<line x1="122.6" y1="411.3" x2="146.3" y2="411.3" stroke="#262626" stroke-width="1.3"/>
<text x="55.6" y="419.6" font-size="6.6" text-anchor="middle" textLength="10.4" lengthAdjust="spacingAndGlyphs">PBS</text>
<text x="76.6" y="419.6" font-size="6.6" text-anchor="middle" textLength="19.6" lengthAdjust="spacingAndGlyphs">EBV wt</text>
<text x="105.9" y="419.6" font-size="6.6" text-anchor="middle" textLength="14.2" lengthAdjust="spacingAndGlyphs">3aKO</text>
<text x="134.45" y="419.6" font-size="6.6" text-anchor="middle" textLength="14.2" lengthAdjust="spacingAndGlyphs">3cKO</text>
<line x1="55" y1="338.5" x2="69.8" y2="338.5" stroke="#262626" stroke-width="1.15"/>
<text x="51" y="335.4" font-size="5.1" textLength="22" lengthAdjust="spacingAndGlyphs" style="stroke-width:0.02px">p=0.0063</text>
<text x="218.6" y="326.9" font-size="6.6" text-anchor="middle" textLength="15.4" lengthAdjust="spacingAndGlyphs">STAT1</text>
<line x1="175.2" y1="398.8" x2="175.2" y2="400.8" stroke="#4a4a4a" stroke-width="0.9"/>
<line x1="172.6" y1="398.8" x2="177.8" y2="398.8" stroke="#4a4a4a" stroke-width="1"/>
<line x1="172.6" y1="400.8" x2="177.8" y2="400.8" stroke="#4a4a4a" stroke-width="1"/>
<circle cx="172.5" cy="396.5" r="1.6" fill="#fff" stroke="#4a4a4a" stroke-width="0.8"/>
<circle cx="175" cy="395.3" r="1.6" fill="#fff" stroke="#4a4a4a" stroke-width="0.8"/>
<circle cx="177.5" cy="396.3" r="1.6" fill="#fff" stroke="#4a4a4a" stroke-width="0.8"/>
<circle cx="180" cy="397.8" r="1.6" fill="#fff" stroke="#4a4a4a" stroke-width="0.8"/>
<circle cx="172.8" cy="405.2" r="1.6" fill="#fff" stroke="#4a4a4a" stroke-width="0.8"/>
<circle cx="177.8" cy="405.2" r="1.6" fill="#fff" stroke="#4a4a4a" stroke-width="0.8"/>
<line x1="170.3" y1="399.8" x2="180.1" y2="399.8" stroke="#0a0a0a" stroke-width="1.15"/>
<line x1="189.9" y1="380.1" x2="189.9" y2="388.4" stroke="#c4566c" stroke-width="0.9"/>
<line x1="187.3" y1="380.1" x2="192.5" y2="380.1" stroke="#c4566c" stroke-width="1"/>
<line x1="187.3" y1="388.4" x2="192.5" y2="388.4" stroke="#c4566c" stroke-width="1"/>
<circle cx="189.9" cy="372.8" r="1.55" fill="#940a24"/>
<circle cx="189.9" cy="378.3" r="1.55" fill="#940a24"/>
<circle cx="187.4" cy="387.4" r="1.55" fill="#940a24"/>
<circle cx="192" cy="388.6" r="1.55" fill="#940a24"/>
<circle cx="189.9" cy="393.4" r="1.55" fill="#940a24"/>
<line x1="185.1" y1="384.2" x2="194.7" y2="384.2" stroke="#0a0a0a" stroke-width="1.15"/>
<line x1="204" y1="377" x2="204" y2="382" stroke="#7fbd67" stroke-width="0.9"/>
<line x1="201.4" y1="377" x2="206.6" y2="377" stroke="#7fbd67" stroke-width="1"/>
<line x1="201.4" y1="382" x2="206.6" y2="382" stroke="#7fbd67" stroke-width="1"/>
<circle cx="204" cy="374.3" r="1.55" fill="#52993a"/>
<circle cx="201.6" cy="382.3" r="1.55" fill="#52993a"/>
<circle cx="206.4" cy="380.3" r="1.55" fill="#52993a"/>
<circle cx="204" cy="379.6" r="1.55" fill="#52993a"/>
<line x1="199.1" y1="379.5" x2="208.9" y2="379.5" stroke="#0a0a0a" stroke-width="1.15"/>
<line x1="218.7" y1="378.5" x2="218.7" y2="382.5" stroke="#c4566c" stroke-width="0.9"/>
<line x1="216.1" y1="378.5" x2="221.3" y2="378.5" stroke="#c4566c" stroke-width="1"/>
<line x1="216.1" y1="382.5" x2="221.3" y2="382.5" stroke="#c4566c" stroke-width="1"/>
<circle cx="220.5" cy="374.2" r="1.55" fill="#940a24"/>
<circle cx="216.5" cy="377" r="1.55" fill="#940a24"/>
<circle cx="216.5" cy="381.8" r="1.55" fill="#940a24"/>
<circle cx="220.2" cy="381.8" r="1.55" fill="#940a24"/>
<circle cx="218.4" cy="386.6" r="1.55" fill="#940a24"/>
<line x1="213.95" y1="380.4" x2="223.45" y2="380.4" stroke="#0a0a0a" stroke-width="1.15"/>
<line x1="232.5" y1="376.1" x2="232.5" y2="385.6" stroke="#7fbd67" stroke-width="0.9"/>
<line x1="229.9" y1="376.1" x2="235.1" y2="376.1" stroke="#7fbd67" stroke-width="1"/>
<line x1="229.9" y1="385.6" x2="235.1" y2="385.6" stroke="#7fbd67" stroke-width="1"/>
<circle cx="232.5" cy="372.4" r="1.55" fill="#52993a"/>
<circle cx="232.5" cy="387.8" r="1.55" fill="#52993a"/>
<circle cx="232.5" cy="381.5" r="1.55" fill="#52993a"/>
<line x1="227.7" y1="381" x2="237.3" y2="381" stroke="#0a0a0a" stroke-width="1.15"/>
<line x1="247.3" y1="377.5" x2="247.3" y2="382.8" stroke="#c4566c" stroke-width="0.9"/>
<line x1="244.7" y1="377.5" x2="249.9" y2="377.5" stroke="#c4566c" stroke-width="1"/>
<line x1="244.7" y1="382.8" x2="249.9" y2="382.8" stroke="#c4566c" stroke-width="1"/>
<circle cx="247.3" cy="373.3" r="1.55" fill="#940a24"/>
<circle cx="245.3" cy="386.4" r="1.55" fill="#940a24"/>
<circle cx="248.6" cy="381.4" r="1.55" fill="#940a24"/>
<circle cx="246" cy="380.2" r="1.55" fill="#940a24"/>
<line x1="242.5" y1="381" x2="252.1" y2="381" stroke="#0a0a0a" stroke-width="1.15"/>
<line x1="261.4" y1="377.5" x2="261.4" y2="385.2" stroke="#7fbd67" stroke-width="0.9"/>
<line x1="258.8" y1="377.5" x2="264" y2="377.5" stroke="#7fbd67" stroke-width="1"/>
<line x1="258.8" y1="385.2" x2="264" y2="385.2" stroke="#7fbd67" stroke-width="1"/>
<circle cx="261.4" cy="374.6" r="1.55" fill="#52993a"/>
<circle cx="261.4" cy="387.3" r="1.55" fill="#52993a"/>
<circle cx="261.4" cy="381" r="1.55" fill="#52993a"/>
<line x1="256.6" y1="381.3" x2="266.2" y2="381.3" stroke="#0a0a0a" stroke-width="1.15"/>
<line x1="168.3" y1="337.5" x2="168.3" y2="408.55" stroke="#231f20" stroke-width="1.2"/>
<line x1="165.1" y1="408" x2="268.7" y2="408" stroke="#151515" stroke-width="1.35"/>
<text x="162.3" y="410.4" font-size="6.8" text-anchor="end" textLength="3.6" lengthAdjust="spacingAndGlyphs">0</text>
<line x1="165.1" y1="391.18" x2="168.3" y2="391.18" stroke="#231f20" stroke-width="1"/>
<text x="162.3" y="393.57" font-size="6.8" text-anchor="end" textLength="3.6" lengthAdjust="spacingAndGlyphs">2</text>
<line x1="165.1" y1="374.35" x2="168.3" y2="374.35" stroke="#231f20" stroke-width="1"/>
<text x="162.3" y="376.75" font-size="6.8" text-anchor="end" textLength="3.6" lengthAdjust="spacingAndGlyphs">4</text>
<line x1="165.1" y1="357.52" x2="168.3" y2="357.52" stroke="#231f20" stroke-width="1"/>
<text x="162.3" y="359.92" font-size="6.8" text-anchor="end" textLength="3.6" lengthAdjust="spacingAndGlyphs">6</text>
<line x1="165.1" y1="340.7" x2="168.3" y2="340.7" stroke="#231f20" stroke-width="1"/>
<text x="162.3" y="343.1" font-size="6.8" text-anchor="end" textLength="3.6" lengthAdjust="spacingAndGlyphs">8</text>
<line x1="185" y1="411.3" x2="208.7" y2="411.3" stroke="#262626" stroke-width="1.3"/>
<line x1="214.1" y1="411.3" x2="237.4" y2="411.3" stroke="#262626" stroke-width="1.3"/>
<line x1="242.7" y1="411.3" x2="266.3" y2="411.3" stroke="#262626" stroke-width="1.3"/>
<text x="175.5" y="419.6" font-size="6.6" text-anchor="middle" textLength="10.4" lengthAdjust="spacingAndGlyphs">PBS</text>
<text x="196.55" y="419.6" font-size="6.6" text-anchor="middle" textLength="19.6" lengthAdjust="spacingAndGlyphs">EBV wt</text>
<text x="225.75" y="419.6" font-size="6.6" text-anchor="middle" textLength="14.2" lengthAdjust="spacingAndGlyphs">3aKO</text>
<text x="254.5" y="419.6" font-size="6.6" text-anchor="middle" textLength="14.2" lengthAdjust="spacingAndGlyphs">3cKO</text>
<line x1="175.5" y1="366.5" x2="189.7" y2="366.5" stroke="#262626" stroke-width="1.15"/>
<text x="171.7" y="364.1" font-size="5.1" textLength="21.8" lengthAdjust="spacingAndGlyphs" style="stroke-width:0.02px">p=0.0024</text>
<text x="337.8" y="326.9" font-size="6.6" text-anchor="middle" textLength="12" lengthAdjust="spacingAndGlyphs">IFIT3</text>
<path d="M294.8 401.2L296.8 404.5L292.8 404.5Z" fill="#fff" stroke="#4a4a4a" stroke-width="0.75"/>
<path d="M292.5 403.6L294.5 406.9L290.5 406.9Z" fill="#fff" stroke="#4a4a4a" stroke-width="0.75"/>
<path d="M297.2 403.6L299.2 406.9L295.2 406.9Z" fill="#fff" stroke="#4a4a4a" stroke-width="0.75"/>
<path d="M294.8 404.2L296.8 407.5L292.8 407.5Z" fill="#fff" stroke="#4a4a4a" stroke-width="0.75"/>
<line x1="290.3" y1="406.5" x2="299.3" y2="406.5" stroke="#0a0a0a" stroke-width="1.15"/>
<line x1="308.8" y1="363.6" x2="308.8" y2="381.9" stroke="#c4566c" stroke-width="0.9"/>
<line x1="306.2" y1="363.6" x2="311.4" y2="363.6" stroke="#c4566c" stroke-width="1"/>
<line x1="306.2" y1="381.9" x2="311.4" y2="381.9" stroke="#c4566c" stroke-width="1"/>
<circle cx="306.6" cy="350.4" r="1.55" fill="#940a24"/>
<circle cx="311" cy="350.4" r="1.55" fill="#940a24"/>
<circle cx="305.8" cy="385.6" r="1.55" fill="#940a24"/>
<circle cx="308.8" cy="389.6" r="1.55" fill="#940a24"/>
<circle cx="311.6" cy="388.3" r="1.55" fill="#940a24"/>
<line x1="303.8" y1="373.2" x2="313.8" y2="373.2" stroke="#0a0a0a" stroke-width="1.15"/>
<line x1="322.7" y1="382.5" x2="322.7" y2="386.2" stroke="#7fbd67" stroke-width="0.9"/>
<line x1="320.1" y1="382.5" x2="325.3" y2="382.5" stroke="#7fbd67" stroke-width="1"/>
<line x1="320.1" y1="386.2" x2="325.3" y2="386.2" stroke="#7fbd67" stroke-width="1"/>
<circle cx="320.6" cy="381.6" r="1.55" fill="#52993a"/>
<circle cx="324.8" cy="381.6" r="1.55" fill="#52993a"/>
<circle cx="322.7" cy="387.3" r="1.55" fill="#52993a"/>
<circle cx="322.7" cy="384.2" r="1.55" fill="#52993a"/>
<line x1="317.9" y1="384.4" x2="327.5" y2="384.4" stroke="#0a0a0a" stroke-width="1.15"/>
<line x1="337.5" y1="366" x2="337.5" y2="372.5" stroke="#c4566c" stroke-width="0.9"/>
<line x1="334.9" y1="366" x2="340.1" y2="366" stroke="#c4566c" stroke-width="1"/>
<line x1="334.9" y1="372.5" x2="340.1" y2="372.5" stroke="#c4566c" stroke-width="1"/>
<circle cx="339.5" cy="361.2" r="1.55" fill="#940a24"/>
<circle cx="335.3" cy="364.8" r="1.55" fill="#940a24"/>
<circle cx="337.5" cy="369" r="1.55" fill="#940a24"/>
<circle cx="339.5" cy="372" r="1.55" fill="#940a24"/>
<circle cx="337.5" cy="381" r="1.55" fill="#940a24"/>
<line x1="332.75" y1="369.9" x2="342.25" y2="369.9" stroke="#0a0a0a" stroke-width="1.15"/>
<line x1="351.6" y1="369.5" x2="351.6" y2="377.3" stroke="#7fbd67" stroke-width="0.9"/>
<line x1="349" y1="369.5" x2="354.2" y2="369.5" stroke="#7fbd67" stroke-width="1"/>
<line x1="349" y1="377.3" x2="354.2" y2="377.3" stroke="#7fbd67" stroke-width="1"/>
<circle cx="351.6" cy="366" r="1.55" fill="#52993a"/>
<circle cx="351.6" cy="379.8" r="1.55" fill="#52993a"/>
<circle cx="351.6" cy="375" r="1.55" fill="#52993a"/>
<line x1="346.9" y1="373.5" x2="356.3" y2="373.5" stroke="#0a0a0a" stroke-width="1.15"/>
<line x1="365.7" y1="359" x2="365.7" y2="364.2" stroke="#c4566c" stroke-width="0.9"/>
<line x1="363.1" y1="359" x2="368.3" y2="359" stroke="#c4566c" stroke-width="1"/>
<line x1="363.1" y1="364.2" x2="368.3" y2="364.2" stroke="#c4566c" stroke-width="1"/>
<circle cx="363.6" cy="356.2" r="1.55" fill="#940a24"/>
<circle cx="367.8" cy="358.4" r="1.55" fill="#940a24"/>
<circle cx="363.6" cy="366.8" r="1.55" fill="#940a24"/>
<circle cx="367.8" cy="365" r="1.55" fill="#940a24"/>
<circle cx="365.7" cy="361" r="1.55" fill="#940a24"/>
<line x1="360.8" y1="361.6" x2="370.6" y2="361.6" stroke="#0a0a0a" stroke-width="1.15"/>
<line x1="379.4" y1="383" x2="379.4" y2="385.6" stroke="#7fbd67" stroke-width="0.9"/>
<line x1="376.8" y1="383" x2="382" y2="383" stroke="#7fbd67" stroke-width="1"/>
<line x1="376.8" y1="385.6" x2="382" y2="385.6" stroke="#7fbd67" stroke-width="1"/>
<circle cx="377.4" cy="382.3" r="1.55" fill="#52993a"/>
<circle cx="381.4" cy="384" r="1.55" fill="#52993a"/>
<circle cx="379.4" cy="386.5" r="1.55" fill="#52993a"/>
<line x1="374.45" y1="384.4" x2="384.35" y2="384.4" stroke="#0a0a0a" stroke-width="1.15"/>
<line x1="287.5" y1="338.2" x2="287.5" y2="408.55" stroke="#231f20" stroke-width="1.2"/>
<line x1="284.3" y1="408" x2="387.3" y2="408" stroke="#151515" stroke-width="1.35"/>
<text x="281.5" y="410.4" font-size="6.8" text-anchor="end" textLength="3.6" lengthAdjust="spacingAndGlyphs">0</text>
<line x1="284.3" y1="391.35" x2="287.5" y2="391.35" stroke="#231f20" stroke-width="1"/>
<text x="281.5" y="393.75" font-size="6.8" text-anchor="end" textLength="3.6" lengthAdjust="spacingAndGlyphs">2</text>
<line x1="284.3" y1="374.7" x2="287.5" y2="374.7" stroke="#231f20" stroke-width="1"/>
<text x="281.5" y="377.1" font-size="6.8" text-anchor="end" textLength="3.6" lengthAdjust="spacingAndGlyphs">4</text>
<line x1="284.3" y1="358.05" x2="287.5" y2="358.05" stroke="#231f20" stroke-width="1"/>
<text x="281.5" y="360.45" font-size="6.8" text-anchor="end" textLength="3.6" lengthAdjust="spacingAndGlyphs">6</text>
<line x1="284.3" y1="341.4" x2="287.5" y2="341.4" stroke="#231f20" stroke-width="1"/>
<text x="281.5" y="343.8" font-size="6.8" text-anchor="end" textLength="3.6" lengthAdjust="spacingAndGlyphs">8</text>
<line x1="303.8" y1="411.3" x2="327.5" y2="411.3" stroke="#262626" stroke-width="1.3"/>
<line x1="332.7" y1="411.3" x2="356.3" y2="411.3" stroke="#262626" stroke-width="1.3"/>
<line x1="361" y1="411.3" x2="384.6" y2="411.3" stroke="#262626" stroke-width="1.3"/>
<text x="294.7" y="419.6" font-size="6.6" text-anchor="middle" textLength="10.4" lengthAdjust="spacingAndGlyphs">PBS</text>
<text x="315.35" y="419.6" font-size="6.6" text-anchor="middle" textLength="19.6" lengthAdjust="spacingAndGlyphs">EBV wt</text>
<text x="344.5" y="419.6" font-size="6.6" text-anchor="middle" textLength="14.2" lengthAdjust="spacingAndGlyphs">3aKO</text>
<text x="372.8" y="419.6" font-size="6.6" text-anchor="middle" textLength="14.2" lengthAdjust="spacingAndGlyphs">3cKO</text>
<line x1="294.5" y1="343.5" x2="309" y2="343.5" stroke="#262626" stroke-width="1.15"/>
<text x="290.8" y="341.3" font-size="5.1" textLength="21.7" lengthAdjust="spacingAndGlyphs" style="stroke-width:0.02px">p=0.0187</text>
<text x="462.6" y="326.9" font-size="6.6" text-anchor="middle" textLength="14" lengthAdjust="spacingAndGlyphs">OAS2</text>
<line x1="418.6" y1="399.6" x2="418.6" y2="403" stroke="#4a4a4a" stroke-width="0.9"/>
<line x1="416" y1="399.6" x2="421.2" y2="399.6" stroke="#4a4a4a" stroke-width="1"/>
<line x1="416" y1="403" x2="421.2" y2="403" stroke="#4a4a4a" stroke-width="1"/>
<circle cx="417" cy="394.4" r="1.6" fill="#fff" stroke="#4a4a4a" stroke-width="0.8"/>
<circle cx="421.3" cy="391.4" r="1.6" fill="#fff" stroke="#4a4a4a" stroke-width="0.8"/>
<circle cx="415.3" cy="403.3" r="1.6" fill="#fff" stroke="#4a4a4a" stroke-width="0.8"/>
<circle cx="419.4" cy="403.3" r="1.6" fill="#fff" stroke="#4a4a4a" stroke-width="0.8"/>
<circle cx="417.3" cy="406.3" r="1.6" fill="#fff" stroke="#4a4a4a" stroke-width="0.8"/>
<circle cx="421.5" cy="406.2" r="1.6" fill="#fff" stroke="#4a4a4a" stroke-width="0.8"/>
<line x1="413.8" y1="401.4" x2="423.4" y2="401.4" stroke="#0a0a0a" stroke-width="1.15"/>
<line x1="433.1" y1="363.4" x2="433.1" y2="376.8" stroke="#c4566c" stroke-width="0.9"/>
<line x1="430.5" y1="363.4" x2="435.7" y2="363.4" stroke="#c4566c" stroke-width="1"/>
<line x1="430.5" y1="376.8" x2="435.7" y2="376.8" stroke="#c4566c" stroke-width="1"/>
<circle cx="433.1" cy="354.3" r="1.55" fill="#940a24"/>
<circle cx="433.1" cy="359.3" r="1.55" fill="#940a24"/>
<circle cx="433.1" cy="368.3" r="1.55" fill="#940a24"/>
<circle cx="433.1" cy="375.5" r="1.55" fill="#940a24"/>
<circle cx="433.1" cy="393.5" r="1.55" fill="#940a24"/>
<line x1="428.3" y1="370" x2="437.9" y2="370" stroke="#0a0a0a" stroke-width="1.15"/>
<line x1="447.5" y1="357" x2="447.5" y2="367.9" stroke="#7fbd67" stroke-width="0.9"/>
<line x1="444.9" y1="357" x2="450.1" y2="357" stroke="#7fbd67" stroke-width="1"/>
<line x1="444.9" y1="367.9" x2="450.1" y2="367.9" stroke="#7fbd67" stroke-width="1"/>
<circle cx="447.5" cy="351.7" r="1.55" fill="#52993a"/>
<circle cx="444.6" cy="368" r="1.55" fill="#52993a"/>
<circle cx="450.4" cy="368" r="1.55" fill="#52993a"/>
<line x1="442.4" y1="362.4" x2="452.6" y2="362.4" stroke="#0a0a0a" stroke-width="1.15"/>
<line x1="461.4" y1="351.5" x2="461.4" y2="359" stroke="#c4566c" stroke-width="0.9"/>
<line x1="458.8" y1="351.5" x2="464" y2="351.5" stroke="#c4566c" stroke-width="1"/>
<line x1="458.8" y1="359" x2="464" y2="359" stroke="#c4566c" stroke-width="1"/>
<circle cx="463.8" cy="345.6" r="1.55" fill="#940a24"/>
<circle cx="459.6" cy="349.7" r="1.55" fill="#940a24"/>
<circle cx="461.4" cy="354" r="1.55" fill="#940a24"/>
<circle cx="459.8" cy="364.1" r="1.55" fill="#940a24"/>
<circle cx="463.6" cy="362.5" r="1.55" fill="#940a24"/>
<line x1="456.4" y1="355.5" x2="466.4" y2="355.5" stroke="#0a0a0a" stroke-width="1.15"/>
<line x1="475.4" y1="352.8" x2="475.4" y2="368.2" stroke="#7fbd67" stroke-width="0.9"/>
<line x1="472.8" y1="352.8" x2="478" y2="352.8" stroke="#7fbd67" stroke-width="1"/>
<line x1="472.8" y1="368.2" x2="478" y2="368.2" stroke="#7fbd67" stroke-width="1"/>
<circle cx="475.4" cy="345.4" r="1.55" fill="#52993a"/>
<circle cx="475.4" cy="366.5" r="1.55" fill="#52993a"/>
<circle cx="475.4" cy="371.8" r="1.55" fill="#52993a"/>
<line x1="470.35" y1="361.3" x2="480.45" y2="361.3" stroke="#0a0a0a" stroke-width="1.15"/>
<line x1="489.7" y1="356" x2="489.7" y2="364" stroke="#c4566c" stroke-width="0.9"/>
<line x1="487.1" y1="356" x2="492.3" y2="356" stroke="#c4566c" stroke-width="1"/>
<line x1="487.1" y1="364" x2="492.3" y2="364" stroke="#c4566c" stroke-width="1"/>
<circle cx="487.5" cy="355.4" r="1.55" fill="#940a24"/>
<circle cx="492.3" cy="353.3" r="1.55" fill="#940a24"/>
<circle cx="489.7" cy="360" r="1.55" fill="#940a24"/>
<circle cx="489.7" cy="369" r="1.55" fill="#940a24"/>
<line x1="485.05" y1="360.2" x2="494.35" y2="360.2" stroke="#0a0a0a" stroke-width="1.15"/>
<line x1="503.6" y1="358.6" x2="503.6" y2="364" stroke="#7fbd67" stroke-width="0.9"/>
<line x1="501" y1="358.6" x2="506.2" y2="358.6" stroke="#7fbd67" stroke-width="1"/>
<line x1="501" y1="364" x2="506.2" y2="364" stroke="#7fbd67" stroke-width="1"/>
<circle cx="501.5" cy="357.3" r="1.55" fill="#52993a"/>
<circle cx="505.5" cy="359" r="1.55" fill="#52993a"/>
<circle cx="503.6" cy="367.4" r="1.55" fill="#52993a"/>
<line x1="498.65" y1="361.3" x2="508.55" y2="361.3" stroke="#0a0a0a" stroke-width="1.15"/>
<line x1="412.3" y1="338.7" x2="412.3" y2="408.55" stroke="#231f20" stroke-width="1.2"/>
<line x1="409.1" y1="408" x2="512.6" y2="408" stroke="#151515" stroke-width="1.35"/>
<text x="406.3" y="410.4" font-size="6.8" text-anchor="end" textLength="8.3" lengthAdjust="spacingAndGlyphs">0.0</text>
<line x1="409.1" y1="394.78" x2="412.3" y2="394.78" stroke="#231f20" stroke-width="1"/>
<text x="406.3" y="397.18" font-size="6.8" text-anchor="end" textLength="8.3" lengthAdjust="spacingAndGlyphs">0.5</text>
<line x1="409.1" y1="381.56" x2="412.3" y2="381.56" stroke="#231f20" stroke-width="1"/>
<text x="406.3" y="383.96" font-size="6.8" text-anchor="end" textLength="8.3" lengthAdjust="spacingAndGlyphs">1.0</text>
<line x1="409.1" y1="368.34" x2="412.3" y2="368.34" stroke="#231f20" stroke-width="1"/>
<text x="406.3" y="370.74" font-size="6.8" text-anchor="end" textLength="8.3" lengthAdjust="spacingAndGlyphs">1.5</text>
<line x1="409.1" y1="355.12" x2="412.3" y2="355.12" stroke="#231f20" stroke-width="1"/>
<text x="406.3" y="357.52" font-size="6.8" text-anchor="end" textLength="8.3" lengthAdjust="spacingAndGlyphs">2.0</text>
<line x1="409.1" y1="341.9" x2="412.3" y2="341.9" stroke="#231f20" stroke-width="1"/>
<text x="406.3" y="344.3" font-size="6.8" text-anchor="end" textLength="8.3" lengthAdjust="spacingAndGlyphs">2.5</text>
<line x1="428.6" y1="411.3" x2="452.3" y2="411.3" stroke="#262626" stroke-width="1.3"/>
<line x1="456.5" y1="411.3" x2="480.1" y2="411.3" stroke="#262626" stroke-width="1.3"/>
<line x1="485.1" y1="411.3" x2="508.3" y2="411.3" stroke="#262626" stroke-width="1.3"/>
<text x="419.5" y="419.6" font-size="6.6" text-anchor="middle" textLength="10.4" lengthAdjust="spacingAndGlyphs">PBS</text>
<text x="440.15" y="419.6" font-size="6.6" text-anchor="middle" textLength="19.6" lengthAdjust="spacingAndGlyphs">EBV wt</text>
<text x="468.3" y="419.6" font-size="6.6" text-anchor="middle" textLength="14.2" lengthAdjust="spacingAndGlyphs">3aKO</text>
<text x="496.7" y="419.6" font-size="6.6" text-anchor="middle" textLength="14.2" lengthAdjust="spacingAndGlyphs">3cKO</text>
<line x1="419" y1="350.5" x2="433.4" y2="350.5" stroke="#262626" stroke-width="1.15"/>
<text x="415.3" y="348.3" font-size="5.1" textLength="21.7" lengthAdjust="spacingAndGlyphs" style="stroke-width:0.02px">p=0.0072</text>
<line x1="433.4" y1="341.5" x2="461.5" y2="341.5" stroke="#262626" stroke-width="1.15"/>
<text x="435.9" y="339.4" font-size="5.1" textLength="22.3" lengthAdjust="spacingAndGlyphs" style="stroke-width:0.02px">p=0.0241</text>
<circle cx="221.1" cy="434" r="1.5" fill="#940a24"/>
<text x="225.2" y="435.6" font-size="5" textLength="22.7" lengthAdjust="spacingAndGlyphs" fill="#333" style="stroke-width:0">MOI=0.25</text>
<circle cx="267.8" cy="434" r="1.5" fill="#52993a"/>
<text x="271.9" y="435.6" font-size="5" textLength="25.1" lengthAdjust="spacingAndGlyphs" fill="#333" style="stroke-width:0">MOI=0.005</text>
<text x="7.8" y="457" font-size="12.4" textLength="8" lengthAdjust="spacingAndGlyphs" style="stroke-width:0.4px">D</text>
<text x="98.6" y="465.8" font-size="6.6" text-anchor="middle" textLength="11.9" lengthAdjust="spacingAndGlyphs">MxB</text>
<line x1="61" y1="540.3" x2="61" y2="543.2" stroke="#4a4a4a" stroke-width="0.9"/>
<line x1="58.4" y1="540.3" x2="63.6" y2="540.3" stroke="#4a4a4a" stroke-width="1"/>
<line x1="58.4" y1="543.2" x2="63.6" y2="543.2" stroke="#4a4a4a" stroke-width="1"/>
<circle cx="58.6" cy="535.4" r="1.6" fill="#fff" stroke="#4a4a4a" stroke-width="0.8"/>
<circle cx="63" cy="536.7" r="1.6" fill="#fff" stroke="#4a4a4a" stroke-width="0.8"/>
<circle cx="55.5" cy="544.6" r="1.6" fill="#fff" stroke="#4a4a4a" stroke-width="0.8"/>
<circle cx="59" cy="544.6" r="1.6" fill="#fff" stroke="#4a4a4a" stroke-width="0.8"/>
<circle cx="62.5" cy="544.6" r="1.6" fill="#fff" stroke="#4a4a4a" stroke-width="0.8"/>
<circle cx="66" cy="544.6" r="1.6" fill="#fff" stroke="#4a4a4a" stroke-width="0.8"/>
<line x1="52.9" y1="541.8" x2="69.1" y2="541.8" stroke="#0a0a0a" stroke-width="1.15"/>
<line x1="85.7" y1="515.7" x2="85.7" y2="524.4" stroke="#8a5a8b" stroke-width="0.9"/>
<line x1="81.3" y1="515.7" x2="90.1" y2="515.7" stroke="#8a5a8b" stroke-width="1"/>
<line x1="81.3" y1="524.4" x2="90.1" y2="524.4" stroke="#8a5a8b" stroke-width="1"/>
<path d="M87.5 504.9L89.25 507.8L85.75 507.8Z" fill="#541656"/>
<path d="M83.5 508.2L85.25 511.1L81.75 511.1Z" fill="#541656"/>
<path d="M81.5 526.5L83.25 529.4L79.75 529.4Z" fill="#541656"/>
<path d="M89.5 527.8L91.25 530.7L87.75 530.7Z" fill="#541656"/>
<path d="M85.6 529.5L87.35 532.4L83.85 532.4Z" fill="#541656"/>
<path d="M85.6 518L87.35 520.9L83.85 520.9Z" fill="#541656"/>
<line x1="77.2" y1="520" x2="94.2" y2="520" stroke="#0a0a0a" stroke-width="1.15"/>
<line x1="110.4" y1="517.5" x2="110.4" y2="521.7" stroke="#e9a653" stroke-width="0.9"/>
<line x1="106" y1="517.5" x2="114.8" y2="517.5" stroke="#e9a653" stroke-width="1"/>
<line x1="106" y1="521.7" x2="114.8" y2="521.7" stroke="#e9a653" stroke-width="1"/>
<path d="M110.4 512.5L112.15 515.4L108.65 515.4Z" fill="#d6800f"/>
<path d="M108.5 522.9L110.25 525.8L106.75 525.8Z" fill="#d6800f"/>
<path d="M112.2 517.9L113.95 520.8L110.45 520.8Z" fill="#d6800f"/>
<path d="M110.4 518.9L112.15 521.8L108.65 521.8Z" fill="#d6800f"/>
<line x1="102" y1="519.3" x2="118.8" y2="519.3" stroke="#0a0a0a" stroke-width="1.15"/>
<line x1="135.5" y1="529.5" x2="135.5" y2="532.4" stroke="#88b6e2" stroke-width="0.9"/>
<line x1="131.1" y1="529.5" x2="139.9" y2="529.5" stroke="#88b6e2" stroke-width="1"/>
<line x1="131.1" y1="532.4" x2="139.9" y2="532.4" stroke="#88b6e2" stroke-width="1"/>
<path d="M134.9 522.3h1.2v1.1h1.1v1.2h-1.1v1.1h-1.2v-1.1h-1.1v-1.2h1.1z" fill="#3f88c8"/>
<path d="M130 529.3h1.2v1.1h1.1v1.2h-1.1v1.1h-1.2v-1.1h-1.1v-1.2h1.1z" fill="#3f88c8"/>
<path d="M139.8 529.3h1.2v1.1h1.1v1.2h-1.1v1.1h-1.2v-1.1h-1.1v-1.2h1.1z" fill="#3f88c8"/>
<path d="M132.7 532.6h1.2v1.1h1.1v1.2h-1.1v1.1h-1.2v-1.1h-1.1v-1.2h1.1z" fill="#3f88c8"/>
<path d="M137 532.6h1.2v1.1h1.1v1.2h-1.1v1.1h-1.2v-1.1h-1.1v-1.2h1.1z" fill="#3f88c8"/>
<path d="M134.9 529.3h1.2v1.1h1.1v1.2h-1.1v1.1h-1.2v-1.1h-1.1v-1.2h1.1z" fill="#3f88c8"/>
<line x1="127.15" y1="530.9" x2="143.85" y2="530.9" stroke="#0a0a0a" stroke-width="1.15"/>
<line x1="48.3" y1="476.4" x2="48.3" y2="547.05" stroke="#231f20" stroke-width="1.2"/>
<line x1="45.1" y1="546.5" x2="148.1" y2="546.5" stroke="#151515" stroke-width="1.35"/>
<text x="42.3" y="548.9" font-size="6.8" text-anchor="end" textLength="8.3" lengthAdjust="spacingAndGlyphs">0.0</text>
<line x1="45.1" y1="533.12" x2="48.3" y2="533.12" stroke="#231f20" stroke-width="1"/>
<text x="42.3" y="535.52" font-size="6.8" text-anchor="end" textLength="8.3" lengthAdjust="spacingAndGlyphs">0.5</text>
<line x1="45.1" y1="519.74" x2="48.3" y2="519.74" stroke="#231f20" stroke-width="1"/>
<text x="42.3" y="522.14" font-size="6.8" text-anchor="end" textLength="8.3" lengthAdjust="spacingAndGlyphs">1.0</text>
<line x1="45.1" y1="506.36" x2="48.3" y2="506.36" stroke="#231f20" stroke-width="1"/>
<text x="42.3" y="508.76" font-size="6.8" text-anchor="end" textLength="8.3" lengthAdjust="spacingAndGlyphs">1.5</text>
<line x1="45.1" y1="492.98" x2="48.3" y2="492.98" stroke="#231f20" stroke-width="1"/>
<text x="42.3" y="495.38" font-size="6.8" text-anchor="end" textLength="8.3" lengthAdjust="spacingAndGlyphs">2.0</text>
<line x1="45.1" y1="479.6" x2="48.3" y2="479.6" stroke="#231f20" stroke-width="1"/>
<text x="42.3" y="482" font-size="6.8" text-anchor="end" textLength="8.3" lengthAdjust="spacingAndGlyphs">2.5</text>
<line x1="78.9" y1="549.5" x2="119.4" y2="549.5" stroke="#262626" stroke-width="1.2"/>
<text x="61.1" y="558.9" font-size="6.6" text-anchor="middle" textLength="10" lengthAdjust="spacingAndGlyphs">PBS</text>
<text x="98.8" y="558.9" font-size="6.6" text-anchor="middle" textLength="16.9" lengthAdjust="spacingAndGlyphs">CpG C</text>
<text x="136.5" y="558.9" font-size="6.6" text-anchor="middle" textLength="13.6" lengthAdjust="spacingAndGlyphs">R848</text>
<line x1="60.7" y1="501.5" x2="85.7" y2="501.5" stroke="#262626" stroke-width="1.15"/>
<text x="62" y="499.5" font-size="5.1" textLength="21.6" lengthAdjust="spacingAndGlyphs" style="stroke-width:0.02px">p=0.0063</text>
<line x1="60.7" y1="493.5" x2="110.6" y2="493.5" stroke="#262626" stroke-width="1.15"/>
<text x="74.7" y="490.7" font-size="5.1" textLength="21.7" lengthAdjust="spacingAndGlyphs" style="stroke-width:0.02px">p=0.0002</text>
<line x1="60.7" y1="484.5" x2="135.5" y2="484.5" stroke="#262626" stroke-width="1.15"/>
<text x="87" y="481.5" font-size="5.1" textLength="21.3" lengthAdjust="spacingAndGlyphs" style="stroke-width:0.02px">p=0.0129</text>
<text x="217.8" y="465.8" font-size="6.6" text-anchor="middle" textLength="15.4" lengthAdjust="spacingAndGlyphs">STAT1</text>
<circle cx="173.2" cy="535.6" r="1.6" fill="#fff" stroke="#4a4a4a" stroke-width="0.8"/>
<circle cx="176.2" cy="534.6" r="1.6" fill="#fff" stroke="#4a4a4a" stroke-width="0.8"/>
<circle cx="179.6" cy="534" r="1.6" fill="#fff" stroke="#4a4a4a" stroke-width="0.8"/>
<circle cx="183" cy="534.6" r="1.6" fill="#fff" stroke="#4a4a4a" stroke-width="0.8"/>
<circle cx="186.2" cy="535.6" r="1.6" fill="#fff" stroke="#4a4a4a" stroke-width="0.8"/>
<circle cx="177.6" cy="538.4" r="1.6" fill="#fff" stroke="#4a4a4a" stroke-width="0.8"/>
<circle cx="181.6" cy="538.4" r="1.6" fill="#fff" stroke="#4a4a4a" stroke-width="0.8"/>
<line x1="171.7" y1="536" x2="188.7" y2="536" stroke="#0a0a0a" stroke-width="1.15"/>
<line x1="204.9" y1="523" x2="204.9" y2="526" stroke="#8a5a8b" stroke-width="0.9"/>
<line x1="200.5" y1="523" x2="209.3" y2="523" stroke="#8a5a8b" stroke-width="1"/>
<line x1="200.5" y1="526" x2="209.3" y2="526" stroke="#8a5a8b" stroke-width="1"/>
<path d="M200 519.9L201.75 522.8L198.25 522.8Z" fill="#541656"/>
<path d="M203 521.3L204.75 524.2L201.25 524.2Z" fill="#541656"/>
<path d="M206.6 520.9L208.35 523.8L204.85 523.8Z" fill="#541656"/>
<path d="M209.6 518.9L211.35 521.8L207.85 521.8Z" fill="#541656"/>
<path d="M202.6 524.9L204.35 527.8L200.85 527.8Z" fill="#541656"/>
<path d="M207 526.9L208.75 529.8L205.25 529.8Z" fill="#541656"/>
<line x1="196.8" y1="524.5" x2="213" y2="524.5" stroke="#0a0a0a" stroke-width="1.15"/>
<line x1="230" y1="521.5" x2="230" y2="527.6" stroke="#e9a653" stroke-width="0.9"/>
<line x1="225.6" y1="521.5" x2="234.4" y2="521.5" stroke="#e9a653" stroke-width="1"/>
<line x1="225.6" y1="527.6" x2="234.4" y2="527.6" stroke="#e9a653" stroke-width="1"/>
<path d="M230 515.9L231.75 518.8L228.25 518.8Z" fill="#d6800f"/>
<path d="M230 529.9L231.75 532.8L228.25 532.8Z" fill="#d6800f"/>
<path d="M228.6 523.5L230.35 526.4L226.85 526.4Z" fill="#d6800f"/>
<path d="M231.6 523.9L233.35 526.8L229.85 526.8Z" fill="#d6800f"/>
<line x1="221.7" y1="524.9" x2="238.3" y2="524.9" stroke="#0a0a0a" stroke-width="1.15"/>
<line x1="255" y1="515.7" x2="255" y2="526.4" stroke="#88b6e2" stroke-width="0.9"/>
<line x1="250.6" y1="515.7" x2="259.4" y2="515.7" stroke="#88b6e2" stroke-width="1"/>
<line x1="250.6" y1="526.4" x2="259.4" y2="526.4" stroke="#88b6e2" stroke-width="1"/>
<path d="M254.4 495h1.2v1.1h1.1v1.2h-1.1v1.1h-1.2v-1.1h-1.1v-1.2h1.1z" fill="#3f88c8"/>
<path d="M252.4 518.3h1.2v1.1h1.1v1.2h-1.1v1.1h-1.2v-1.1h-1.1v-1.2h1.1z" fill="#3f88c8"/>
<path d="M256.4 518.3h1.2v1.1h1.1v1.2h-1.1v1.1h-1.2v-1.1h-1.1v-1.2h1.1z" fill="#3f88c8"/>
<path d="M250.4 528.2h1.2v1.1h1.1v1.2h-1.1v1.1h-1.2v-1.1h-1.1v-1.2h1.1z" fill="#3f88c8"/>
<path d="M254.4 528.8h1.2v1.1h1.1v1.2h-1.1v1.1h-1.2v-1.1h-1.1v-1.2h1.1z" fill="#3f88c8"/>
<path d="M258.4 528.3h1.2v1.1h1.1v1.2h-1.1v1.1h-1.2v-1.1h-1.1v-1.2h1.1z" fill="#3f88c8"/>
<line x1="246.5" y1="521.1" x2="263.5" y2="521.1" stroke="#0a0a0a" stroke-width="1.15"/>
<line x1="167.5" y1="476.2" x2="167.5" y2="547.05" stroke="#231f20" stroke-width="1.2"/>
<line x1="164.3" y1="546.5" x2="267.7" y2="546.5" stroke="#151515" stroke-width="1.35"/>
<text x="161.5" y="548.9" font-size="6.8" text-anchor="end" textLength="3.6" lengthAdjust="spacingAndGlyphs">0</text>
<line x1="164.3" y1="529.73" x2="167.5" y2="529.73" stroke="#231f20" stroke-width="1"/>
<text x="161.5" y="532.12" font-size="6.8" text-anchor="end" textLength="3.6" lengthAdjust="spacingAndGlyphs">2</text>
<line x1="164.3" y1="512.95" x2="167.5" y2="512.95" stroke="#231f20" stroke-width="1"/>
<text x="161.5" y="515.35" font-size="6.8" text-anchor="end" textLength="3.6" lengthAdjust="spacingAndGlyphs">4</text>
<line x1="164.3" y1="496.17" x2="167.5" y2="496.17" stroke="#231f20" stroke-width="1"/>
<text x="161.5" y="498.57" font-size="6.8" text-anchor="end" textLength="3.6" lengthAdjust="spacingAndGlyphs">6</text>
<line x1="164.3" y1="479.4" x2="167.5" y2="479.4" stroke="#231f20" stroke-width="1"/>
<text x="161.5" y="481.8" font-size="6.8" text-anchor="end" textLength="3.6" lengthAdjust="spacingAndGlyphs">8</text>
<line x1="198.1" y1="549.5" x2="238.6" y2="549.5" stroke="#262626" stroke-width="1.2"/>
<text x="180.3" y="558.9" font-size="6.6" text-anchor="middle" textLength="10" lengthAdjust="spacingAndGlyphs">PBS</text>
<text x="218" y="558.9" font-size="6.6" text-anchor="middle" textLength="16.9" lengthAdjust="spacingAndGlyphs">CpG C</text>
<text x="255.7" y="558.9" font-size="6.6" text-anchor="middle" textLength="13.6" lengthAdjust="spacingAndGlyphs">R848</text>
<line x1="180.2" y1="506.5" x2="204.9" y2="506.5" stroke="#262626" stroke-width="1.15"/>
<text x="181.1" y="504.1" font-size="5.1" textLength="21.7" lengthAdjust="spacingAndGlyphs" style="stroke-width:0.02px">p=0.0005</text>
<line x1="180.2" y1="496.5" x2="230" y2="496.5" stroke="#262626" stroke-width="1.15"/>
<text x="193.9" y="494.4" font-size="5.1" textLength="21.2" lengthAdjust="spacingAndGlyphs" style="stroke-width:0.02px">p=0.0282</text>
<line x1="180.2" y1="487.5" x2="255" y2="487.5" stroke="#262626" stroke-width="1.15"/>
<text x="206.4" y="485.9" font-size="5.1" textLength="22.5" lengthAdjust="spacingAndGlyphs" style="stroke-width:0.02px">p=0.0287</text>
<text x="337.6" y="465.8" font-size="6.6" text-anchor="middle" textLength="12" lengthAdjust="spacingAndGlyphs">IFIT3</text>
<circle cx="293.6" cy="543.6" r="1.6" fill="#fff" stroke="#4a4a4a" stroke-width="0.8"/>
<circle cx="297" cy="544.2" r="1.6" fill="#fff" stroke="#4a4a4a" stroke-width="0.8"/>
<circle cx="300.1" cy="540.8" r="1.6" fill="#fff" stroke="#4a4a4a" stroke-width="0.8"/>
<circle cx="303.2" cy="544.2" r="1.6" fill="#fff" stroke="#4a4a4a" stroke-width="0.8"/>
<circle cx="306.4" cy="544.2" r="1.6" fill="#fff" stroke="#4a4a4a" stroke-width="0.8"/>
<line x1="291.95" y1="544.2" x2="308.25" y2="544.2" stroke="#0a0a0a" stroke-width="1.15"/>
<line x1="325.6" y1="519.1" x2="325.6" y2="527.3" stroke="#8a5a8b" stroke-width="0.9"/>
<line x1="321.2" y1="519.1" x2="330" y2="519.1" stroke="#8a5a8b" stroke-width="1"/>
<line x1="321.2" y1="527.3" x2="330" y2="527.3" stroke="#8a5a8b" stroke-width="1"/>
<path d="M325.6 506L327.35 508.9L323.85 508.9Z" fill="#541656"/>
<path d="M328.5 517.1L330.25 520L326.75 520Z" fill="#541656"/>
<path d="M323 521.2L324.75 524.1L321.25 524.1Z" fill="#541656"/>
<path d="M327.5 524.5L329.25 527.4L325.75 527.4Z" fill="#541656"/>
<path d="M328.5 529.5L330.25 532.4L326.75 532.4Z" fill="#541656"/>
<path d="M321.5 532.5L323.25 535.4L319.75 535.4Z" fill="#541656"/>
<line x1="317.3" y1="523" x2="333.9" y2="523" stroke="#0a0a0a" stroke-width="1.15"/>
<line x1="350.9" y1="520.7" x2="350.9" y2="526.1" stroke="#e9a653" stroke-width="0.9"/>
<line x1="346.5" y1="520.7" x2="355.3" y2="520.7" stroke="#e9a653" stroke-width="1"/>
<line x1="346.5" y1="526.1" x2="355.3" y2="526.1" stroke="#e9a653" stroke-width="1"/>
<path d="M350.9 514.7L352.65 517.6L349.15 517.6Z" fill="#d6800f"/>
<path d="M348 526L349.75 528.9L346.25 528.9Z" fill="#d6800f"/>
<path d="M353.6 526L355.35 528.9L351.85 528.9Z" fill="#d6800f"/>
<path d="M350.9 520.5L352.65 523.4L349.15 523.4Z" fill="#d6800f"/>
<line x1="342.4" y1="523.3" x2="359.4" y2="523.3" stroke="#0a0a0a" stroke-width="1.15"/>
<line x1="376" y1="526" x2="376" y2="531.5" stroke="#88b6e2" stroke-width="0.9"/>
<line x1="371.6" y1="526" x2="380.4" y2="526" stroke="#88b6e2" stroke-width="1"/>
<line x1="371.6" y1="531.5" x2="380.4" y2="531.5" stroke="#88b6e2" stroke-width="1"/>
<path d="M372.4 519.8h1.2v1.1h1.1v1.2h-1.1v1.1h-1.2v-1.1h-1.1v-1.2h1.1z" fill="#3f88c8"/>
<path d="M378 517.3h1.2v1.1h1.1v1.2h-1.1v1.1h-1.2v-1.1h-1.1v-1.2h1.1z" fill="#3f88c8"/>
<path d="M372.4 532.8h1.2v1.1h1.1v1.2h-1.1v1.1h-1.2v-1.1h-1.1v-1.2h1.1z" fill="#3f88c8"/>
<path d="M378 532.8h1.2v1.1h1.1v1.2h-1.1v1.1h-1.2v-1.1h-1.1v-1.2h1.1z" fill="#3f88c8"/>
<path d="M375.4 526.8h1.2v1.1h1.1v1.2h-1.1v1.1h-1.2v-1.1h-1.1v-1.2h1.1z" fill="#3f88c8"/>
<path d="M375.4 528.5h1.2v1.1h1.1v1.2h-1.1v1.1h-1.2v-1.1h-1.1v-1.2h1.1z" fill="#3f88c8"/>
<line x1="367.8" y1="528.9" x2="384.2" y2="528.9" stroke="#0a0a0a" stroke-width="1.15"/>
<line x1="287.3" y1="475.4" x2="287.3" y2="547.05" stroke="#231f20" stroke-width="1.2"/>
<line x1="284.1" y1="546.5" x2="387.7" y2="546.5" stroke="#151515" stroke-width="1.35"/>
<text x="281.3" y="548.9" font-size="6.8" text-anchor="end" textLength="3.6" lengthAdjust="spacingAndGlyphs">0</text>
<line x1="284.1" y1="529.52" x2="287.3" y2="529.52" stroke="#231f20" stroke-width="1"/>
<text x="281.3" y="531.92" font-size="6.8" text-anchor="end" textLength="3.6" lengthAdjust="spacingAndGlyphs">2</text>
<line x1="284.1" y1="512.55" x2="287.3" y2="512.55" stroke="#231f20" stroke-width="1"/>
<text x="281.3" y="514.95" font-size="6.8" text-anchor="end" textLength="3.6" lengthAdjust="spacingAndGlyphs">4</text>
<line x1="284.1" y1="495.58" x2="287.3" y2="495.58" stroke="#231f20" stroke-width="1"/>
<text x="281.3" y="497.98" font-size="6.8" text-anchor="end" textLength="3.6" lengthAdjust="spacingAndGlyphs">6</text>
<line x1="284.1" y1="478.6" x2="287.3" y2="478.6" stroke="#231f20" stroke-width="1"/>
<text x="281.3" y="481" font-size="6.8" text-anchor="end" textLength="3.6" lengthAdjust="spacingAndGlyphs">8</text>
<line x1="317.9" y1="549.5" x2="358.4" y2="549.5" stroke="#262626" stroke-width="1.2"/>
<text x="300.1" y="558.9" font-size="6.6" text-anchor="middle" textLength="10" lengthAdjust="spacingAndGlyphs">PBS</text>
<text x="337.8" y="558.9" font-size="6.6" text-anchor="middle" textLength="16.9" lengthAdjust="spacingAndGlyphs">CpG C</text>
<text x="375.5" y="558.9" font-size="6.6" text-anchor="middle" textLength="13.6" lengthAdjust="spacingAndGlyphs">R848</text>
<line x1="299.7" y1="502.5" x2="325.6" y2="502.5" stroke="#262626" stroke-width="1.15"/>
<text x="301.5" y="500.9" font-size="5.1" textLength="22.5" lengthAdjust="spacingAndGlyphs" style="stroke-width:0.02px">p=0.0036</text>
<line x1="299.7" y1="493.5" x2="350.9" y2="493.5" stroke="#262626" stroke-width="1.15"/>
<text x="313.8" y="491" font-size="5.1" textLength="22.9" lengthAdjust="spacingAndGlyphs" style="stroke-width:0.02px">p=0.0078</text>
<line x1="299.7" y1="484.5" x2="376.4" y2="484.5" stroke="#262626" stroke-width="1.15"/>
<text x="326.8" y="481.6" font-size="5.1" textLength="22.4" lengthAdjust="spacingAndGlyphs" style="stroke-width:0.02px">p=0.0012</text>
<text x="462.7" y="465.8" font-size="6.6" text-anchor="middle" textLength="15.7" lengthAdjust="spacingAndGlyphs">OAS2</text>
<line x1="425.2" y1="536.1" x2="425.2" y2="540" stroke="#4a4a4a" stroke-width="0.9"/>
<line x1="422.6" y1="536.1" x2="427.8" y2="536.1" stroke="#4a4a4a" stroke-width="1"/>
<line x1="422.6" y1="540" x2="427.8" y2="540" stroke="#4a4a4a" stroke-width="1"/>
<circle cx="422.6" cy="529.7" r="1.6" fill="#fff" stroke="#4a4a4a" stroke-width="0.8"/>
<circle cx="427.4" cy="532.2" r="1.6" fill="#fff" stroke="#4a4a4a" stroke-width="0.8"/>
<circle cx="418.5" cy="542.3" r="1.6" fill="#fff" stroke="#4a4a4a" stroke-width="0.8"/>
<circle cx="421.8" cy="542.3" r="1.6" fill="#fff" stroke="#4a4a4a" stroke-width="0.8"/>
<circle cx="425.2" cy="542.3" r="1.6" fill="#fff" stroke="#4a4a4a" stroke-width="0.8"/>
<circle cx="428.6" cy="542.3" r="1.6" fill="#fff" stroke="#4a4a4a" stroke-width="0.8"/>
<circle cx="431.9" cy="542.3" r="1.6" fill="#fff" stroke="#4a4a4a" stroke-width="0.8"/>
<line x1="416.85" y1="538.5" x2="433.55" y2="538.5" stroke="#0a0a0a" stroke-width="1.15"/>
<line x1="450.3" y1="504.5" x2="450.3" y2="510.4" stroke="#8a5a8b" stroke-width="0.9"/>
<line x1="445.9" y1="504.5" x2="454.7" y2="504.5" stroke="#8a5a8b" stroke-width="1"/>
<line x1="445.9" y1="510.4" x2="454.7" y2="510.4" stroke="#8a5a8b" stroke-width="1"/>
<path d="M450.3 496.2L452.05 499.1L448.55 499.1Z" fill="#541656"/>
<path d="M450.3 500.9L452.05 503.8L448.55 503.8Z" fill="#541656"/>
<path d="M445.6 503.4L447.35 506.3L443.85 506.3Z" fill="#541656"/>
<path d="M450.3 507.4L452.05 510.3L448.55 510.3Z" fill="#541656"/>
<path d="M452.6 509.9L454.35 512.8L450.85 512.8Z" fill="#541656"/>
<path d="M455 509.9L456.75 512.8L453.25 512.8Z" fill="#541656"/>
<path d="M447.5 513.9L449.25 516.8L445.75 516.8Z" fill="#541656"/>
<line x1="441.8" y1="507.5" x2="458.8" y2="507.5" stroke="#0a0a0a" stroke-width="1.15"/>
<line x1="475.5" y1="509.7" x2="475.5" y2="517.7" stroke="#e9a653" stroke-width="0.9"/>
<line x1="471.1" y1="509.7" x2="479.9" y2="509.7" stroke="#e9a653" stroke-width="1"/>
<line x1="471.1" y1="517.7" x2="479.9" y2="517.7" stroke="#e9a653" stroke-width="1"/>
<path d="M475.5 502.2L477.25 505.1L473.75 505.1Z" fill="#d6800f"/>
<path d="M473 519.9L474.75 522.8L471.25 522.8Z" fill="#d6800f"/>
<path d="M477.8 514.4L479.55 517.3L476.05 517.3Z" fill="#d6800f"/>
<path d="M475.5 511.4L477.25 514.3L473.75 514.3Z" fill="#d6800f"/>
<line x1="467.2" y1="513.5" x2="483.8" y2="513.5" stroke="#0a0a0a" stroke-width="1.15"/>
<line x1="500.4" y1="512.9" x2="500.4" y2="520.2" stroke="#88b6e2" stroke-width="0.9"/>
<line x1="496" y1="512.9" x2="504.8" y2="512.9" stroke="#88b6e2" stroke-width="1"/>
<line x1="496" y1="520.2" x2="504.8" y2="520.2" stroke="#88b6e2" stroke-width="1"/>
<path d="M497.6 505h1.2v1.1h1.1v1.2h-1.1v1.1h-1.2v-1.1h-1.1v-1.2h1.1z" fill="#3f88c8"/>
<path d="M501.7 506.5h1.2v1.1h1.1v1.2h-1.1v1.1h-1.2v-1.1h-1.1v-1.2h1.1z" fill="#3f88c8"/>
<path d="M499.9 510.8h1.2v1.1h1.1v1.2h-1.1v1.1h-1.2v-1.1h-1.1v-1.2h1.1z" fill="#3f88c8"/>
<path d="M499.9 517.3h1.2v1.1h1.1v1.2h-1.1v1.1h-1.2v-1.1h-1.1v-1.2h1.1z" fill="#3f88c8"/>
<path d="M497.8 524.8h1.2v1.1h1.1v1.2h-1.1v1.1h-1.2v-1.1h-1.1v-1.2h1.1z" fill="#3f88c8"/>
<path d="M501.8 523.5h1.2v1.1h1.1v1.2h-1.1v1.1h-1.2v-1.1h-1.1v-1.2h1.1z" fill="#3f88c8"/>
<line x1="492" y1="516.5" x2="508.8" y2="516.5" stroke="#0a0a0a" stroke-width="1.15"/>
<line x1="412.4" y1="475.8" x2="412.4" y2="547.05" stroke="#231f20" stroke-width="1.2"/>
<line x1="409.2" y1="546.5" x2="512.4" y2="546.5" stroke="#151515" stroke-width="1.35"/>
<text x="406.4" y="548.9" font-size="6.8" text-anchor="end" textLength="8.3" lengthAdjust="spacingAndGlyphs">0.0</text>
<line x1="409.2" y1="533" x2="412.4" y2="533" stroke="#231f20" stroke-width="1"/>
<text x="406.4" y="535.4" font-size="6.8" text-anchor="end" textLength="8.3" lengthAdjust="spacingAndGlyphs">0.5</text>
<line x1="409.2" y1="519.5" x2="412.4" y2="519.5" stroke="#231f20" stroke-width="1"/>
<text x="406.4" y="521.9" font-size="6.8" text-anchor="end" textLength="8.3" lengthAdjust="spacingAndGlyphs">1.0</text>
<line x1="409.2" y1="506" x2="412.4" y2="506" stroke="#231f20" stroke-width="1"/>
<text x="406.4" y="508.4" font-size="6.8" text-anchor="end" textLength="8.3" lengthAdjust="spacingAndGlyphs">1.5</text>
<line x1="409.2" y1="492.5" x2="412.4" y2="492.5" stroke="#231f20" stroke-width="1"/>
<text x="406.4" y="494.9" font-size="6.8" text-anchor="end" textLength="8.3" lengthAdjust="spacingAndGlyphs">2.0</text>
<line x1="409.2" y1="479" x2="412.4" y2="479" stroke="#231f20" stroke-width="1"/>
<text x="406.4" y="481.4" font-size="6.8" text-anchor="end" textLength="8.3" lengthAdjust="spacingAndGlyphs">2.5</text>
<line x1="443" y1="549.5" x2="483.5" y2="549.5" stroke="#262626" stroke-width="1.2"/>
<text x="425.2" y="558.9" font-size="6.6" text-anchor="middle" textLength="10" lengthAdjust="spacingAndGlyphs">PBS</text>
<text x="462.9" y="558.9" font-size="6.6" text-anchor="middle" textLength="16.9" lengthAdjust="spacingAndGlyphs">CpG C</text>
<text x="500.6" y="558.9" font-size="6.6" text-anchor="middle" textLength="13.6" lengthAdjust="spacingAndGlyphs">R848</text>
<line x1="425.2" y1="493.5" x2="450.3" y2="493.5" stroke="#262626" stroke-width="1.15"/>
<text x="426.6" y="490.9" font-size="5.1" textLength="22.3" lengthAdjust="spacingAndGlyphs" style="stroke-width:0.02px">p&lt;0.0001</text>
<line x1="425.2" y1="484.5" x2="475.5" y2="484.5" stroke="#262626" stroke-width="1.15"/>
<text x="438.9" y="482.6" font-size="5.1" textLength="22.2" lengthAdjust="spacingAndGlyphs" style="stroke-width:0.02px">p=0.0232</text>
<line x1="425.2" y1="476.5" x2="500.4" y2="476.5" stroke="#262626" stroke-width="1.15"/>
<text x="451.5" y="474.3" font-size="5.1" textLength="22.1" lengthAdjust="spacingAndGlyphs" style="stroke-width:0.02px">p=0.0045</text>
<path d="M181.8 570.8L183.6 573.9L180 573.9Z" fill="#541656"/>
<text x="185.7" y="574.4" font-size="5.5" textLength="35.6" lengthAdjust="spacingAndGlyphs" fill="#333" style="stroke-width:0">CpG C 10µg/ml</text>
<path d="M241.7 570.8L243.5 573.9L239.9 573.9Z" fill="#d6800f"/>
<text x="246.6" y="574.4" font-size="5.5" textLength="36.4" lengthAdjust="spacingAndGlyphs" fill="#333" style="stroke-width:0">CpG C 2.5µg/ml</text>
<path d="M302.8 570.9h1.2v1.1h1.1v1.2h-1.1v1.1h-1.2v-1.1h-1.1v-1.2h1.1z" fill="#3f88c8"/>
<text x="307.7" y="574.4" font-size="5.5" textLength="29.9" lengthAdjust="spacingAndGlyphs" fill="#333" style="stroke-width:0">R848 4µg/ml</text>
</g>
<g shape-rendering="crispEdges"><rect x="0" y="1" width="520" height="1" fill="#8e8e8e"/><rect x="1" y="0" width="1" height="583" fill="#8a8a8a"/><rect x="518" y="0" width="1" height="583" fill="#8a8a8a"/><rect x="0" y="581" width="520" height="1" fill="#7a7a7a"/><rect x="0" y="0" width="520" height="1" fill="#484846"/><rect x="0" y="0" width="1" height="583" fill="#484848"/><rect x="519" y="0" width="1" height="583" fill="#080808"/><rect x="0" y="582" width="520" height="1" fill="#0a0a0a"/></g>
</svg>
</body></html>
